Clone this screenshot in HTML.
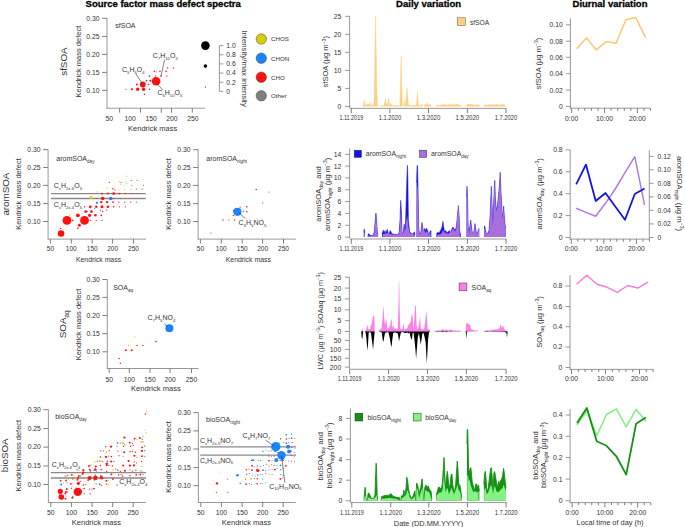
<!DOCTYPE html>
<html><head><meta charset="utf-8"><style>
html,body{margin:0;padding:0;background:#fff;}
svg{display:block;font-family:"Liberation Sans", sans-serif;}
</style></head><body>
<svg width="685" height="527" viewBox="0 0 685 527" fill="#333333">
<rect width="685" height="527" fill="#fff"/>
<g stroke="#000" stroke-width="0.3">
<text x="163.20" y="6.90" font-size="9.5" text-anchor="middle" font-weight="bold" fill="#000">Source factor mass defect spectra</text>
<text x="428.60" y="6.90" font-size="9.5" text-anchor="middle" font-weight="bold" fill="#000">Daily variation</text>
<text x="610.00" y="6.90" font-size="9.5" text-anchor="middle" font-weight="bold" fill="#000">Diurnal variation</text>
</g>
<text x="67.20" y="61.60" font-size="9.8" text-anchor="middle" transform="rotate(-90 67.20 61.60)">sfSOA</text>
<text x="8.60" y="194.10" font-size="9.8" text-anchor="middle" transform="rotate(-90 8.60 194.10)">aromSOA</text>
<text x="66.00" y="324.30" font-size="9.8" text-anchor="middle" transform="rotate(-90 66.00 324.30)">SOA<tspan dy="2.74" font-size="6.47">aq</tspan></text>
<text x="8.40" y="455.30" font-size="9.8" text-anchor="middle" transform="rotate(-90 8.40 455.30)">bioSOA</text>
<line x1="107.00" y1="18.00" x2="107.00" y2="108.65" stroke="#8c8c8c" stroke-width="0.9"/>
<line x1="102.00" y1="18.30" x2="107.00" y2="18.30" stroke="#707070" stroke-width="0.9"/>
<text x="99.50" y="20.60" font-size="6.8" text-anchor="end">0.30</text>
<line x1="102.00" y1="36.40" x2="107.00" y2="36.40" stroke="#707070" stroke-width="0.9"/>
<text x="99.50" y="38.70" font-size="6.8" text-anchor="end">0.25</text>
<line x1="102.00" y1="54.40" x2="107.00" y2="54.40" stroke="#707070" stroke-width="0.9"/>
<text x="99.50" y="56.70" font-size="6.8" text-anchor="end">0.20</text>
<line x1="102.00" y1="72.40" x2="107.00" y2="72.40" stroke="#707070" stroke-width="0.9"/>
<text x="99.50" y="74.70" font-size="6.8" text-anchor="end">0.15</text>
<line x1="102.00" y1="90.40" x2="107.00" y2="90.40" stroke="#707070" stroke-width="0.9"/>
<text x="99.50" y="92.70" font-size="6.8" text-anchor="end">0.10</text>
<line x1="106.55" y1="108.20" x2="205.20" y2="108.20" stroke="#8c8c8c" stroke-width="0.9"/>
<line x1="119.60" y1="108.20" x2="119.60" y2="112.70" stroke="#707070" stroke-width="0.9"/>
<line x1="140.50" y1="108.20" x2="140.50" y2="112.70" stroke="#707070" stroke-width="0.9"/>
<line x1="161.30" y1="108.20" x2="161.30" y2="112.70" stroke="#707070" stroke-width="0.9"/>
<line x1="171.50" y1="108.20" x2="171.50" y2="112.70" stroke="#707070" stroke-width="0.9"/>
<line x1="192.30" y1="108.20" x2="192.30" y2="112.70" stroke="#707070" stroke-width="0.9"/>
<text x="109.30" y="120.80" font-size="6.8" text-anchor="middle">50</text>
<text x="130.20" y="120.80" font-size="6.8" text-anchor="middle">100</text>
<text x="151.10" y="120.80" font-size="6.8" text-anchor="middle">150</text>
<text x="171.90" y="120.80" font-size="6.8" text-anchor="middle">200</text>
<text x="192.80" y="120.80" font-size="6.8" text-anchor="middle">250</text>
<text x="152.70" y="131.30" font-size="7.5" text-anchor="middle">Kendrick mass</text>
<text x="80.60" y="61.60" font-size="7.5" text-anchor="middle" transform="rotate(-90 80.60 61.60)">Kendrick mass defect</text>
<text x="115.30" y="27.90" font-size="7">sfSOA</text>
<circle cx="126.00" cy="89.30" r="0.60" fill="#ff1010"/>
<circle cx="131.90" cy="89.30" r="1.10" fill="#ff1010"/>
<circle cx="137.70" cy="89.30" r="1.70" fill="#ff1010"/>
<circle cx="143.60" cy="89.30" r="1.70" fill="#ff1010"/>
<circle cx="136.80" cy="84.50" r="1.00" fill="#ff1010"/>
<circle cx="148.50" cy="84.50" r="0.80" fill="#ff1010"/>
<circle cx="149.50" cy="89.30" r="0.70" fill="#ff1010"/>
<circle cx="144.40" cy="94.20" r="0.70" fill="#ff1010"/>
<circle cx="150.30" cy="80.70" r="1.00" fill="#ff1010"/>
<circle cx="149.50" cy="76.10" r="0.80" fill="#ff1010"/>
<circle cx="154.30" cy="71.30" r="0.80" fill="#ff1010"/>
<circle cx="160.00" cy="71.30" r="0.80" fill="#ff1010"/>
<circle cx="166.10" cy="71.30" r="0.80" fill="#ff1010"/>
<circle cx="161.00" cy="76.10" r="0.80" fill="#ff1010"/>
<circle cx="166.90" cy="76.10" r="0.70" fill="#ff1010"/>
<circle cx="167.60" cy="67.90" r="0.70" fill="#ff1010"/>
<circle cx="173.50" cy="67.90" r="0.70" fill="#ff1010"/>
<circle cx="155.50" cy="76.10" r="0.70" fill="#ff1010"/>
<circle cx="146.50" cy="80.70" r="1.00" fill="#1a84ff"/>
<circle cx="156.10" cy="71.80" r="0.60" fill="#1a84ff"/>
<circle cx="142.80" cy="84.50" r="2.90" fill="#ff1010"/>
<circle cx="156.10" cy="81.20" r="4.30" fill="#ff1010"/>
<line x1="164.60" y1="59.70" x2="161.00" y2="76.10" stroke="#333" stroke-width="0.6"/>
<line x1="136.00" y1="74.00" x2="142.40" y2="83.70" stroke="#333" stroke-width="0.6"/>
<line x1="155.90" y1="82.70" x2="163.00" y2="89.90" stroke="#333" stroke-width="0.6"/>
<text x="152.80" y="58.20" font-size="7">C<tspan dy="1.96" font-size="4.20">7</tspan><tspan dy="-1.96">H</tspan><tspan dy="1.96" font-size="4.20">10</tspan><tspan dy="-1.96">O</tspan><tspan dy="1.96" font-size="4.20">5</tspan></text>
<text x="122.00" y="72.00" font-size="7">C<tspan dy="1.96" font-size="4.20">5</tspan><tspan dy="-1.96">H</tspan><tspan dy="1.96" font-size="4.20">6</tspan><tspan dy="-1.96">O</tspan><tspan dy="1.96" font-size="4.20">4</tspan></text>
<text x="157.40" y="95.00" font-size="7">C<tspan dy="1.96" font-size="4.20">6</tspan><tspan dy="-1.96">H</tspan><tspan dy="1.96" font-size="4.20">10</tspan><tspan dy="-1.96">O</tspan><tspan dy="1.96" font-size="4.20">5</tspan></text>
<circle cx="205.40" cy="45.60" r="4.30" fill="#000"/>
<circle cx="205.40" cy="66.10" r="1.80" fill="#000"/>
<circle cx="205.40" cy="87.00" r="0.60" fill="#000"/>
<line x1="219.40" y1="45.60" x2="219.40" y2="91.40" stroke="#8c8c8c" stroke-width="0.9"/>
<line x1="219.40" y1="45.60" x2="223.40" y2="45.60" stroke="#8c8c8c" stroke-width="0.9"/>
<text x="226.30" y="47.90" font-size="6.8">1.0</text>
<line x1="219.40" y1="54.76" x2="223.40" y2="54.76" stroke="#8c8c8c" stroke-width="0.9"/>
<text x="226.30" y="57.06" font-size="6.8">0.8</text>
<line x1="219.40" y1="63.92" x2="223.40" y2="63.92" stroke="#8c8c8c" stroke-width="0.9"/>
<text x="226.30" y="66.22" font-size="6.8">0.6</text>
<line x1="219.40" y1="73.08" x2="223.40" y2="73.08" stroke="#8c8c8c" stroke-width="0.9"/>
<text x="226.30" y="75.38" font-size="6.8">0.4</text>
<line x1="219.40" y1="82.24" x2="223.40" y2="82.24" stroke="#8c8c8c" stroke-width="0.9"/>
<text x="226.30" y="84.54" font-size="6.8">0.2</text>
<line x1="219.40" y1="91.40" x2="223.40" y2="91.40" stroke="#8c8c8c" stroke-width="0.9"/>
<text x="226.30" y="93.70" font-size="6.8">0</text>
<text x="241.60" y="68.60" font-size="7.8" text-anchor="middle" transform="rotate(90 241.60 68.60)">Intensity/max intensity</text>
<circle cx="261.30" cy="39.00" r="5.20" fill="#d8cf00" stroke="#444" stroke-width="0.5"/>
<text x="271.00" y="41.30" font-size="6.2">CHOS</text>
<circle cx="261.30" cy="58.20" r="5.20" fill="#1a84ff" stroke="#444" stroke-width="0.5"/>
<text x="271.00" y="60.50" font-size="6.2">CHON</text>
<circle cx="261.30" cy="77.20" r="5.20" fill="#ff1010" stroke="#444" stroke-width="0.5"/>
<text x="271.00" y="79.50" font-size="6.2">CHO</text>
<circle cx="261.30" cy="95.80" r="5.20" fill="#808080" stroke="#444" stroke-width="0.5"/>
<text x="271.00" y="98.10" font-size="6.2">Other</text>
<line x1="48.10" y1="149.60" x2="48.10" y2="239.55" stroke="#8c8c8c" stroke-width="0.9"/>
<line x1="43.10" y1="149.60" x2="48.10" y2="149.60" stroke="#707070" stroke-width="0.9"/>
<text x="40.60" y="151.90" font-size="6.8" text-anchor="end">0.30</text>
<line x1="43.10" y1="167.50" x2="48.10" y2="167.50" stroke="#707070" stroke-width="0.9"/>
<text x="40.60" y="169.80" font-size="6.8" text-anchor="end">0.25</text>
<line x1="43.10" y1="185.40" x2="48.10" y2="185.40" stroke="#707070" stroke-width="0.9"/>
<text x="40.60" y="187.70" font-size="6.8" text-anchor="end">0.20</text>
<line x1="43.10" y1="203.60" x2="48.10" y2="203.60" stroke="#707070" stroke-width="0.9"/>
<text x="40.60" y="205.90" font-size="6.8" text-anchor="end">0.15</text>
<line x1="43.10" y1="221.50" x2="48.10" y2="221.50" stroke="#707070" stroke-width="0.9"/>
<text x="40.60" y="223.80" font-size="6.8" text-anchor="end">0.10</text>
<line x1="47.65" y1="239.10" x2="146.00" y2="239.10" stroke="#8c8c8c" stroke-width="0.9"/>
<line x1="50.40" y1="239.10" x2="50.40" y2="243.60" stroke="#707070" stroke-width="0.9"/>
<line x1="71.30" y1="239.10" x2="71.30" y2="243.60" stroke="#707070" stroke-width="0.9"/>
<line x1="92.20" y1="239.10" x2="92.20" y2="243.60" stroke="#707070" stroke-width="0.9"/>
<line x1="112.60" y1="239.10" x2="112.60" y2="243.60" stroke="#707070" stroke-width="0.9"/>
<line x1="133.50" y1="239.10" x2="133.50" y2="243.60" stroke="#707070" stroke-width="0.9"/>
<text x="50.40" y="251.20" font-size="6.5" text-anchor="middle">50</text>
<text x="71.30" y="251.20" font-size="6.5" text-anchor="middle">100</text>
<text x="92.20" y="251.20" font-size="6.5" text-anchor="middle">150</text>
<text x="112.60" y="251.20" font-size="6.5" text-anchor="middle">200</text>
<text x="133.50" y="251.20" font-size="6.5" text-anchor="middle">250</text>
<text x="98.50" y="262.00" font-size="6.9" text-anchor="middle">Kendrick mass</text>
<text x="20.70" y="194.00" font-size="7.5" text-anchor="middle" transform="rotate(-90 20.70 194.00)">Kendrick mass defect</text>
<text x="56.30" y="161.00" font-size="7">aromSOA<tspan dy="1.96" font-size="4.62">day</tspan></text>
<line x1="50.90" y1="193.60" x2="145.80" y2="193.60" stroke="#8a8a8a" stroke-width="1.3"/>
<line x1="50.90" y1="198.50" x2="145.80" y2="198.50" stroke="#8a8a8a" stroke-width="1.3"/>
<text x="53.80" y="188.20" font-size="7">C<tspan dy="1.96" font-size="4.20">x</tspan><tspan dy="-1.96">H</tspan><tspan dy="1.96" font-size="4.20">2x-6</tspan><tspan dy="-1.96">O</tspan><tspan dy="1.96" font-size="4.20">5</tspan></text>
<text x="53.80" y="207.20" font-size="7">C<tspan dy="1.96" font-size="4.20">x</tspan><tspan dy="-1.96">H</tspan><tspan dy="1.96" font-size="4.20">2x-4</tspan><tspan dy="-1.96">O</tspan><tspan dy="1.96" font-size="4.20">5</tspan></text>
<circle cx="60.40" cy="228.40" r="0.60" fill="#ff1010"/>
<circle cx="77.90" cy="228.40" r="0.80" fill="#ff1010"/>
<circle cx="79.40" cy="225.20" r="1.50" fill="#ff1010"/>
<circle cx="72.80" cy="220.40" r="0.80" fill="#ff1010"/>
<circle cx="69.90" cy="215.30" r="0.70" fill="#d8cf00"/>
<circle cx="77.90" cy="215.30" r="1.90" fill="#ff1010"/>
<circle cx="89.60" cy="215.30" r="1.60" fill="#ff1010"/>
<circle cx="95.40" cy="215.30" r="1.30" fill="#ff1010"/>
<circle cx="101.30" cy="215.30" r="0.90" fill="#ff1010"/>
<circle cx="85.70" cy="211.60" r="1.40" fill="#ff1010"/>
<circle cx="91.40" cy="211.60" r="1.40" fill="#ff1010"/>
<circle cx="87.40" cy="211.60" r="0.60" fill="#1a84ff"/>
<circle cx="96.20" cy="220.40" r="0.60" fill="#ff1010"/>
<circle cx="102.00" cy="220.40" r="0.60" fill="#ff1010"/>
<circle cx="90.30" cy="220.40" r="0.60" fill="#ff1010"/>
<circle cx="90.30" cy="206.80" r="1.40" fill="#ff1010"/>
<circle cx="96.20" cy="206.80" r="1.20" fill="#ff1010"/>
<circle cx="102.00" cy="206.80" r="1.50" fill="#ff1010"/>
<circle cx="107.90" cy="206.80" r="1.30" fill="#ff1010"/>
<circle cx="113.70" cy="206.80" r="0.80" fill="#ff1010"/>
<circle cx="119.50" cy="206.80" r="0.60" fill="#ff1010"/>
<circle cx="125.40" cy="206.80" r="0.60" fill="#ff1010"/>
<circle cx="84.50" cy="206.80" r="0.70" fill="#ff1010"/>
<circle cx="94.70" cy="208.70" r="0.60" fill="#1a84ff"/>
<circle cx="100.60" cy="210.10" r="0.70" fill="#ff1010"/>
<circle cx="102.70" cy="211.60" r="0.70" fill="#ff1010"/>
<circle cx="106.40" cy="210.10" r="0.60" fill="#ff1010"/>
<circle cx="101.30" cy="202.10" r="1.20" fill="#ff1010"/>
<circle cx="107.10" cy="202.10" r="1.20" fill="#ff1010"/>
<circle cx="113.00" cy="202.10" r="0.90" fill="#ff1010"/>
<circle cx="118.80" cy="202.10" r="0.70" fill="#ff1010"/>
<circle cx="124.60" cy="202.10" r="0.60" fill="#ff1010"/>
<circle cx="130.50" cy="202.10" r="0.60" fill="#ff1010"/>
<circle cx="136.30" cy="202.10" r="0.60" fill="#ff1010"/>
<circle cx="96.90" cy="202.80" r="1.10" fill="#1a84ff"/>
<circle cx="96.20" cy="198.50" r="0.60" fill="#ff1010"/>
<circle cx="114.40" cy="198.50" r="0.60" fill="#ff1010"/>
<circle cx="120.30" cy="198.50" r="0.50" fill="#ff1010"/>
<circle cx="102.00" cy="193.60" r="0.90" fill="#ff1010"/>
<circle cx="107.90" cy="193.60" r="1.00" fill="#ff1010"/>
<circle cx="113.70" cy="193.60" r="1.40" fill="#ff1010"/>
<circle cx="119.50" cy="193.60" r="0.90" fill="#ff1010"/>
<circle cx="125.40" cy="193.60" r="0.70" fill="#ff1010"/>
<circle cx="131.20" cy="193.60" r="0.60" fill="#ff1010"/>
<circle cx="137.10" cy="193.60" r="0.50" fill="#ff1010"/>
<circle cx="96.90" cy="191.90" r="0.60" fill="#d8cf00"/>
<circle cx="107.10" cy="188.20" r="0.60" fill="#d8cf00"/>
<circle cx="113.00" cy="188.70" r="0.80" fill="#ff1010"/>
<circle cx="115.20" cy="190.10" r="0.60" fill="#ff1010"/>
<circle cx="118.80" cy="189.70" r="0.50" fill="#d8cf00"/>
<circle cx="124.60" cy="189.70" r="0.50" fill="#d8cf00"/>
<circle cx="130.50" cy="189.70" r="0.50" fill="#d8cf00"/>
<circle cx="136.30" cy="189.00" r="0.60" fill="#ff1010"/>
<circle cx="142.20" cy="189.00" r="0.60" fill="#ff1010"/>
<circle cx="109.30" cy="182.40" r="0.60" fill="#ff1010"/>
<circle cx="119.50" cy="181.70" r="0.60" fill="#d8cf00"/>
<circle cx="120.30" cy="184.60" r="0.50" fill="#d8cf00"/>
<circle cx="121.00" cy="182.40" r="0.50" fill="#ff1010"/>
<circle cx="125.40" cy="181.70" r="0.50" fill="#d8cf00"/>
<circle cx="126.80" cy="183.10" r="0.50" fill="#1a84ff"/>
<circle cx="131.20" cy="180.50" r="0.60" fill="#ff1010"/>
<circle cx="131.90" cy="185.30" r="0.50" fill="#ff1010"/>
<circle cx="137.10" cy="180.50" r="0.50" fill="#ff1010"/>
<circle cx="142.90" cy="179.50" r="0.50" fill="#d8cf00"/>
<circle cx="143.60" cy="185.30" r="0.50" fill="#ff1010"/>
<circle cx="126.80" cy="176.10" r="0.60" fill="#d8cf00"/>
<circle cx="123.90" cy="185.30" r="0.50" fill="#d8cf00"/>
<circle cx="91.10" cy="197.70" r="1.60" fill="#d8cf00"/>
<circle cx="102.70" cy="198.50" r="1.80" fill="#ff1010"/>
<circle cx="110.80" cy="198.50" r="1.80" fill="#1a84ff"/>
<circle cx="67.00" cy="220.40" r="4.40" fill="#ff1010"/>
<circle cx="84.50" cy="220.40" r="4.40" fill="#ff1010"/>
<circle cx="61.10" cy="233.50" r="3.30" fill="#ff1010"/>
<line x1="198.10" y1="149.60" x2="198.10" y2="239.55" stroke="#8c8c8c" stroke-width="0.9"/>
<line x1="193.10" y1="149.60" x2="198.10" y2="149.60" stroke="#707070" stroke-width="0.9"/>
<text x="190.60" y="151.90" font-size="6.8" text-anchor="end">0.30</text>
<line x1="193.10" y1="167.50" x2="198.10" y2="167.50" stroke="#707070" stroke-width="0.9"/>
<text x="190.60" y="169.80" font-size="6.8" text-anchor="end">0.25</text>
<line x1="193.10" y1="185.40" x2="198.10" y2="185.40" stroke="#707070" stroke-width="0.9"/>
<text x="190.60" y="187.70" font-size="6.8" text-anchor="end">0.20</text>
<line x1="193.10" y1="203.60" x2="198.10" y2="203.60" stroke="#707070" stroke-width="0.9"/>
<text x="190.60" y="205.90" font-size="6.8" text-anchor="end">0.15</text>
<line x1="193.10" y1="221.50" x2="198.10" y2="221.50" stroke="#707070" stroke-width="0.9"/>
<text x="190.60" y="223.80" font-size="6.8" text-anchor="end">0.10</text>
<line x1="197.65" y1="239.10" x2="296.00" y2="239.10" stroke="#8c8c8c" stroke-width="0.9"/>
<line x1="200.40" y1="239.10" x2="200.40" y2="243.60" stroke="#707070" stroke-width="0.9"/>
<line x1="221.30" y1="239.10" x2="221.30" y2="243.60" stroke="#707070" stroke-width="0.9"/>
<line x1="242.20" y1="239.10" x2="242.20" y2="243.60" stroke="#707070" stroke-width="0.9"/>
<line x1="262.60" y1="239.10" x2="262.60" y2="243.60" stroke="#707070" stroke-width="0.9"/>
<line x1="283.50" y1="239.10" x2="283.50" y2="243.60" stroke="#707070" stroke-width="0.9"/>
<text x="200.40" y="251.20" font-size="6.5" text-anchor="middle">50</text>
<text x="221.30" y="251.20" font-size="6.5" text-anchor="middle">100</text>
<text x="242.20" y="251.20" font-size="6.5" text-anchor="middle">150</text>
<text x="262.60" y="251.20" font-size="6.5" text-anchor="middle">200</text>
<text x="283.50" y="251.20" font-size="6.5" text-anchor="middle">250</text>
<text x="248.30" y="262.00" font-size="6.9" text-anchor="middle">Kendrick mass</text>
<text x="170.60" y="194.00" font-size="7.5" text-anchor="middle" transform="rotate(-90 170.60 194.00)">Kendrick mass defect</text>
<text x="206.30" y="161.00" font-size="7">aromSOA<tspan dy="1.96" font-size="4.62">night</tspan></text>
<circle cx="256.20" cy="189.50" r="0.80" fill="#ff1010"/>
<circle cx="246.80" cy="206.70" r="0.80" fill="#ff1010"/>
<circle cx="246.80" cy="211.80" r="0.80" fill="#ff1010"/>
<circle cx="240.10" cy="207.20" r="0.60" fill="#ff1010"/>
<circle cx="234.50" cy="220.00" r="0.70" fill="#ff1010"/>
<circle cx="228.90" cy="220.00" r="0.60" fill="#ff1010"/>
<circle cx="223.00" cy="220.00" r="0.70" fill="#ff1010"/>
<circle cx="211.00" cy="233.00" r="0.60" fill="#ff1010"/>
<circle cx="233.50" cy="210.80" r="0.70" fill="#ff1010"/>
<circle cx="233.50" cy="215.40" r="0.70" fill="#ff1010"/>
<circle cx="269.00" cy="192.10" r="0.60" fill="#1a84ff"/>
<circle cx="262.60" cy="202.80" r="0.60" fill="#1a84ff"/>
<circle cx="243.40" cy="211.30" r="0.70" fill="#1a84ff"/>
<circle cx="237.40" cy="211.80" r="4.10" fill="#1a84ff"/>
<line x1="239.00" y1="213.00" x2="245.50" y2="218.60" stroke="#333" stroke-width="0.6"/>
<text x="238.60" y="224.60" font-size="7">C<tspan dy="1.96" font-size="4.20">6</tspan><tspan dy="-1.96">H</tspan><tspan dy="1.96" font-size="4.20">5</tspan><tspan dy="-1.96">NO</tspan><tspan dy="1.96" font-size="4.20">5</tspan></text>
<line x1="107.30" y1="279.50" x2="107.30" y2="368.95" stroke="#8c8c8c" stroke-width="0.9"/>
<line x1="102.30" y1="279.50" x2="107.30" y2="279.50" stroke="#707070" stroke-width="0.9"/>
<text x="99.80" y="281.80" font-size="6.8" text-anchor="end">0.30</text>
<line x1="102.30" y1="297.40" x2="107.30" y2="297.40" stroke="#707070" stroke-width="0.9"/>
<text x="99.80" y="299.70" font-size="6.8" text-anchor="end">0.25</text>
<line x1="102.30" y1="315.50" x2="107.30" y2="315.50" stroke="#707070" stroke-width="0.9"/>
<text x="99.80" y="317.80" font-size="6.8" text-anchor="end">0.20</text>
<line x1="102.30" y1="333.60" x2="107.30" y2="333.60" stroke="#707070" stroke-width="0.9"/>
<text x="99.80" y="335.90" font-size="6.8" text-anchor="end">0.15</text>
<line x1="102.30" y1="351.80" x2="107.30" y2="351.80" stroke="#707070" stroke-width="0.9"/>
<text x="99.80" y="354.10" font-size="6.8" text-anchor="end">0.10</text>
<line x1="106.85" y1="368.50" x2="198.60" y2="368.50" stroke="#8c8c8c" stroke-width="0.9"/>
<line x1="109.20" y1="368.50" x2="109.20" y2="373.00" stroke="#707070" stroke-width="0.9"/>
<line x1="129.30" y1="368.50" x2="129.30" y2="373.00" stroke="#707070" stroke-width="0.9"/>
<line x1="150.00" y1="368.50" x2="150.00" y2="373.00" stroke="#707070" stroke-width="0.9"/>
<line x1="170.10" y1="368.50" x2="170.10" y2="373.00" stroke="#707070" stroke-width="0.9"/>
<line x1="191.50" y1="368.50" x2="191.50" y2="373.00" stroke="#707070" stroke-width="0.9"/>
<text x="109.20" y="381.50" font-size="6.8" text-anchor="middle">50</text>
<text x="129.30" y="381.50" font-size="6.8" text-anchor="middle">100</text>
<text x="150.00" y="381.50" font-size="6.8" text-anchor="middle">150</text>
<text x="170.10" y="381.50" font-size="6.8" text-anchor="middle">200</text>
<text x="191.50" y="381.50" font-size="6.8" text-anchor="middle">250</text>
<text x="155.90" y="391.40" font-size="7.6" text-anchor="middle">Kendrick mass</text>
<text x="80.60" y="324.50" font-size="7.5" text-anchor="middle" transform="rotate(-90 80.60 324.50)">Kendrick mass defect</text>
<text x="113.20" y="290.20" font-size="7">SOA<tspan dy="1.96" font-size="4.62">aq</tspan></text>
<circle cx="155.90" cy="341.60" r="0.80" fill="#ff1010"/>
<circle cx="142.80" cy="345.40" r="0.70" fill="#ff1010"/>
<circle cx="136.90" cy="345.40" r="0.70" fill="#ff1010"/>
<circle cx="131.70" cy="350.20" r="1.00" fill="#ff1010"/>
<circle cx="125.80" cy="350.20" r="1.00" fill="#ff1010"/>
<circle cx="119.10" cy="358.50" r="0.80" fill="#ff1010"/>
<circle cx="120.30" cy="363.20" r="0.70" fill="#ff1010"/>
<circle cx="135.00" cy="336.90" r="0.60" fill="#d8cf00"/>
<circle cx="128.60" cy="345.40" r="0.60" fill="#d8cf00"/>
<circle cx="169.40" cy="328.30" r="4.00" fill="#1a84ff"/>
<line x1="164.20" y1="323.40" x2="167.30" y2="326.90" stroke="#333" stroke-width="0.6"/>
<text x="147.60" y="320.30" font-size="7">C<tspan dy="1.96" font-size="4.20">7</tspan><tspan dy="-1.96">H</tspan><tspan dy="1.96" font-size="4.20">5</tspan><tspan dy="-1.96">NO</tspan><tspan dy="1.96" font-size="4.20">4</tspan></text>
<line x1="48.40" y1="409.70" x2="48.40" y2="502.95" stroke="#8c8c8c" stroke-width="0.9"/>
<line x1="43.40" y1="409.70" x2="48.40" y2="409.70" stroke="#707070" stroke-width="0.9"/>
<text x="40.90" y="412.00" font-size="6.8" text-anchor="end">0.30</text>
<line x1="43.40" y1="428.50" x2="48.40" y2="428.50" stroke="#707070" stroke-width="0.9"/>
<text x="40.90" y="430.80" font-size="6.8" text-anchor="end">0.25</text>
<line x1="43.40" y1="447.10" x2="48.40" y2="447.10" stroke="#707070" stroke-width="0.9"/>
<text x="40.90" y="449.40" font-size="6.8" text-anchor="end">0.20</text>
<line x1="43.40" y1="465.90" x2="48.40" y2="465.90" stroke="#707070" stroke-width="0.9"/>
<text x="40.90" y="468.20" font-size="6.8" text-anchor="end">0.15</text>
<line x1="43.40" y1="484.50" x2="48.40" y2="484.50" stroke="#707070" stroke-width="0.9"/>
<text x="40.90" y="486.80" font-size="6.8" text-anchor="end">0.10</text>
<line x1="47.95" y1="502.50" x2="145.70" y2="502.50" stroke="#8c8c8c" stroke-width="0.9"/>
<line x1="50.80" y1="502.50" x2="50.80" y2="507.00" stroke="#707070" stroke-width="0.9"/>
<line x1="71.40" y1="502.50" x2="71.40" y2="507.00" stroke="#707070" stroke-width="0.9"/>
<line x1="92.10" y1="502.50" x2="92.10" y2="507.00" stroke="#707070" stroke-width="0.9"/>
<line x1="112.70" y1="502.50" x2="112.70" y2="507.00" stroke="#707070" stroke-width="0.9"/>
<line x1="133.20" y1="502.50" x2="133.20" y2="507.00" stroke="#707070" stroke-width="0.9"/>
<text x="50.80" y="514.60" font-size="6.8" text-anchor="middle">50</text>
<text x="71.40" y="514.60" font-size="6.8" text-anchor="middle">100</text>
<text x="92.10" y="514.60" font-size="6.8" text-anchor="middle">150</text>
<text x="112.70" y="514.60" font-size="6.8" text-anchor="middle">200</text>
<text x="133.20" y="514.60" font-size="6.8" text-anchor="middle">250</text>
<text x="96.40" y="525.40" font-size="7.5" text-anchor="middle">Kendrick mass</text>
<text x="21.30" y="455.70" font-size="7.5" text-anchor="middle" transform="rotate(-90 21.30 455.70)">Kendrick mass defect</text>
<text x="55.20" y="419.20" font-size="7">bioSOA<tspan dy="1.96" font-size="4.62">day</tspan></text>
<line x1="50.80" y1="472.70" x2="146.10" y2="472.70" stroke="#8a8a8a" stroke-width="1.3"/>
<line x1="50.80" y1="478.00" x2="146.10" y2="478.00" stroke="#8a8a8a" stroke-width="1.3"/>
<text x="51.80" y="467.20" font-size="7">C<tspan dy="1.96" font-size="4.20">x</tspan><tspan dy="-1.96">H</tspan><tspan dy="1.96" font-size="4.20">2x-6</tspan><tspan dy="-1.96">O</tspan><tspan dy="1.96" font-size="4.20">4</tspan></text>
<text x="119.20" y="484.30" font-size="7">C<tspan dy="1.96" font-size="4.20">x</tspan><tspan dy="-1.96">H</tspan><tspan dy="1.96" font-size="4.20">2x-4</tspan><tspan dy="-1.96">O</tspan><tspan dy="1.96" font-size="4.20">4</tspan></text>
<circle cx="60.64" cy="480.67" r="0.90" fill="#ff1010"/>
<circle cx="61.23" cy="484.45" r="1.00" fill="#1a84ff"/>
<circle cx="63.33" cy="482.98" r="0.60" fill="#d8cf00"/>
<circle cx="59.40" cy="490.14" r="0.90" fill="#ff1010"/>
<circle cx="59.34" cy="493.91" r="0.60" fill="#ff1010"/>
<circle cx="61.17" cy="498.18" r="1.00" fill="#1a84ff"/>
<circle cx="63.61" cy="498.18" r="0.60" fill="#1a84ff"/>
<circle cx="65.72" cy="476.15" r="0.60" fill="#ff1010"/>
<circle cx="67.75" cy="475.39" r="0.60" fill="#ff1010"/>
<circle cx="66.01" cy="480.52" r="0.90" fill="#ff1010"/>
<circle cx="68.50" cy="479.49" r="0.60" fill="#d8cf00"/>
<circle cx="66.75" cy="489.01" r="1.00" fill="#ff1010"/>
<circle cx="65.26" cy="493.52" r="0.90" fill="#ff1010"/>
<circle cx="67.31" cy="492.08" r="0.60" fill="#ff1010"/>
<circle cx="65.48" cy="498.64" r="0.90" fill="#ff1010"/>
<circle cx="71.81" cy="474.92" r="0.90" fill="#ff1010"/>
<circle cx="73.88" cy="476.61" r="0.60" fill="#d8cf00"/>
<circle cx="72.92" cy="479.25" r="0.90" fill="#d8cf00"/>
<circle cx="70.90" cy="483.79" r="0.90" fill="#ff1010"/>
<circle cx="71.51" cy="488.32" r="0.60" fill="#ff1010"/>
<circle cx="72.29" cy="497.78" r="1.00" fill="#ff1010"/>
<circle cx="76.99" cy="469.78" r="0.70" fill="#1a84ff"/>
<circle cx="78.98" cy="470.65" r="0.60" fill="#d8cf00"/>
<circle cx="78.83" cy="475.91" r="1.00" fill="#ff1010"/>
<circle cx="80.74" cy="475.96" r="0.60" fill="#ff1010"/>
<circle cx="77.49" cy="479.67" r="1.00" fill="#ff1010"/>
<circle cx="80.22" cy="481.38" r="0.60" fill="#ff1010"/>
<circle cx="78.12" cy="484.73" r="0.60" fill="#ff1010"/>
<circle cx="76.59" cy="488.71" r="0.90" fill="#ff1010"/>
<circle cx="78.67" cy="488.83" r="0.60" fill="#d8cf00"/>
<circle cx="83.38" cy="470.14" r="1.10" fill="#ff1010"/>
<circle cx="82.38" cy="474.19" r="0.80" fill="#ff1010"/>
<circle cx="83.46" cy="484.96" r="0.80" fill="#ff1010"/>
<circle cx="85.71" cy="484.48" r="0.60" fill="#ff1010"/>
<circle cx="84.07" cy="488.43" r="0.80" fill="#ff1010"/>
<circle cx="84.39" cy="493.68" r="0.60" fill="#1a84ff"/>
<circle cx="88.97" cy="465.97" r="1.00" fill="#ff1010"/>
<circle cx="90.88" cy="465.09" r="0.60" fill="#ff1010"/>
<circle cx="90.29" cy="470.86" r="0.90" fill="#ff1010"/>
<circle cx="88.12" cy="480.03" r="0.90" fill="#ff1010"/>
<circle cx="89.63" cy="489.15" r="0.60" fill="#ff1010"/>
<circle cx="92.05" cy="489.21" r="0.60" fill="#1a84ff"/>
<circle cx="90.28" cy="493.85" r="0.70" fill="#ff1010"/>
<circle cx="94.83" cy="461.74" r="0.70" fill="#d8cf00"/>
<circle cx="97.22" cy="461.08" r="0.60" fill="#ff1010"/>
<circle cx="95.81" cy="466.50" r="1.10" fill="#ff1010"/>
<circle cx="94.07" cy="470.42" r="0.70" fill="#1a84ff"/>
<circle cx="96.39" cy="471.04" r="0.60" fill="#1a84ff"/>
<circle cx="95.30" cy="474.79" r="0.60" fill="#ff1010"/>
<circle cx="94.47" cy="479.53" r="1.10" fill="#1a84ff"/>
<circle cx="96.41" cy="479.37" r="0.60" fill="#ff1010"/>
<circle cx="94.37" cy="483.78" r="0.60" fill="#d8cf00"/>
<circle cx="96.28" cy="483.91" r="0.60" fill="#1a84ff"/>
<circle cx="93.99" cy="488.57" r="0.90" fill="#ff1010"/>
<circle cx="100.83" cy="450.85" r="0.70" fill="#ff1010"/>
<circle cx="103.33" cy="450.92" r="0.60" fill="#1a84ff"/>
<circle cx="100.49" cy="457.03" r="0.70" fill="#ff1010"/>
<circle cx="99.86" cy="461.03" r="1.10" fill="#d8cf00"/>
<circle cx="102.21" cy="461.58" r="0.60" fill="#ff1010"/>
<circle cx="100.37" cy="465.45" r="0.70" fill="#ff1010"/>
<circle cx="101.77" cy="469.72" r="0.70" fill="#d8cf00"/>
<circle cx="100.84" cy="475.73" r="0.80" fill="#ff1010"/>
<circle cx="99.64" cy="484.18" r="0.90" fill="#1a84ff"/>
<circle cx="101.47" cy="485.30" r="0.60" fill="#ff1010"/>
<circle cx="105.71" cy="446.77" r="0.70" fill="#ff1010"/>
<circle cx="106.54" cy="452.13" r="0.90" fill="#d8cf00"/>
<circle cx="109.29" cy="450.64" r="0.60" fill="#ff1010"/>
<circle cx="106.00" cy="456.91" r="1.10" fill="#ff1010"/>
<circle cx="108.70" cy="456.03" r="0.60" fill="#1a84ff"/>
<circle cx="107.39" cy="461.34" r="0.80" fill="#1a84ff"/>
<circle cx="106.68" cy="465.20" r="1.00" fill="#ff1010"/>
<circle cx="108.85" cy="465.34" r="0.60" fill="#ff1010"/>
<circle cx="106.61" cy="471.45" r="0.60" fill="#ff1010"/>
<circle cx="106.29" cy="480.74" r="0.90" fill="#ff1010"/>
<circle cx="108.22" cy="480.50" r="0.60" fill="#d8cf00"/>
<circle cx="106.44" cy="484.13" r="0.70" fill="#ff1010"/>
<circle cx="108.50" cy="484.86" r="0.60" fill="#d8cf00"/>
<circle cx="111.08" cy="446.67" r="1.10" fill="#ff1010"/>
<circle cx="111.34" cy="456.47" r="0.80" fill="#ff1010"/>
<circle cx="111.11" cy="461.39" r="1.00" fill="#ff1010"/>
<circle cx="113.77" cy="461.51" r="0.60" fill="#ff1010"/>
<circle cx="112.35" cy="465.97" r="0.70" fill="#ff1010"/>
<circle cx="113.22" cy="470.11" r="0.80" fill="#d8cf00"/>
<circle cx="115.79" cy="469.01" r="0.60" fill="#ff1010"/>
<circle cx="111.37" cy="474.33" r="0.90" fill="#ff1010"/>
<circle cx="112.95" cy="479.08" r="0.90" fill="#ff1010"/>
<circle cx="117.66" cy="443.07" r="0.80" fill="#ff1010"/>
<circle cx="120.22" cy="443.08" r="0.60" fill="#1a84ff"/>
<circle cx="116.97" cy="446.31" r="0.60" fill="#1a84ff"/>
<circle cx="117.96" cy="451.15" r="0.60" fill="#ff1010"/>
<circle cx="119.02" cy="455.64" r="0.60" fill="#ff1010"/>
<circle cx="117.82" cy="470.18" r="0.70" fill="#ff1010"/>
<circle cx="120.32" cy="471.42" r="0.60" fill="#ff1010"/>
<circle cx="118.57" cy="474.96" r="0.70" fill="#ff1010"/>
<circle cx="121.17" cy="474.33" r="0.60" fill="#ff1010"/>
<circle cx="117.08" cy="484.99" r="0.70" fill="#1a84ff"/>
<circle cx="124.39" cy="437.56" r="1.10" fill="#ff1010"/>
<circle cx="122.79" cy="443.20" r="1.10" fill="#d8cf00"/>
<circle cx="124.87" cy="444.86" r="0.60" fill="#ff1010"/>
<circle cx="123.52" cy="446.46" r="0.60" fill="#ff1010"/>
<circle cx="124.23" cy="452.30" r="1.00" fill="#ff1010"/>
<circle cx="123.17" cy="456.25" r="0.60" fill="#1a84ff"/>
<circle cx="123.21" cy="465.48" r="1.00" fill="#ff1010"/>
<circle cx="124.94" cy="470.75" r="1.10" fill="#ff1010"/>
<circle cx="122.66" cy="476.01" r="0.70" fill="#ff1010"/>
<circle cx="129.71" cy="442.69" r="0.90" fill="#ff1010"/>
<circle cx="132.40" cy="443.59" r="0.60" fill="#ff1010"/>
<circle cx="130.57" cy="446.25" r="0.70" fill="#ff1010"/>
<circle cx="133.34" cy="445.32" r="0.60" fill="#ff1010"/>
<circle cx="130.03" cy="451.71" r="0.70" fill="#ff1010"/>
<circle cx="132.46" cy="451.55" r="0.60" fill="#ff1010"/>
<circle cx="128.60" cy="461.01" r="1.10" fill="#ff1010"/>
<circle cx="129.94" cy="465.53" r="1.10" fill="#ff1010"/>
<circle cx="130.06" cy="469.95" r="0.60" fill="#ff1010"/>
<circle cx="132.37" cy="471.20" r="0.60" fill="#ff1010"/>
<circle cx="130.04" cy="475.55" r="0.70" fill="#ff1010"/>
<circle cx="134.61" cy="438.71" r="0.90" fill="#ff1010"/>
<circle cx="136.76" cy="439.59" r="0.60" fill="#d8cf00"/>
<circle cx="135.55" cy="452.31" r="0.70" fill="#ff1010"/>
<circle cx="134.41" cy="455.76" r="1.00" fill="#ff1010"/>
<circle cx="136.96" cy="457.27" r="0.60" fill="#ff1010"/>
<circle cx="134.28" cy="461.88" r="0.60" fill="#ff1010"/>
<circle cx="136.65" cy="463.01" r="0.60" fill="#ff1010"/>
<circle cx="134.07" cy="465.42" r="1.10" fill="#ff1010"/>
<circle cx="135.88" cy="470.13" r="0.70" fill="#ff1010"/>
<circle cx="136.23" cy="474.79" r="0.90" fill="#ff1010"/>
<circle cx="139.86" cy="438.10" r="1.00" fill="#ff1010"/>
<circle cx="142.22" cy="439.17" r="0.60" fill="#ff1010"/>
<circle cx="141.15" cy="441.78" r="0.90" fill="#d8cf00"/>
<circle cx="142.97" cy="441.83" r="0.60" fill="#ff1010"/>
<circle cx="142.12" cy="447.40" r="0.90" fill="#ff1010"/>
<circle cx="144.71" cy="445.90" r="0.60" fill="#ff1010"/>
<circle cx="141.96" cy="450.94" r="1.10" fill="#ff1010"/>
<circle cx="144.57" cy="450.66" r="0.60" fill="#1a84ff"/>
<circle cx="141.98" cy="456.13" r="0.90" fill="#ff1010"/>
<circle cx="144.75" cy="456.75" r="0.60" fill="#ff1010"/>
<circle cx="141.53" cy="461.54" r="0.60" fill="#ff1010"/>
<circle cx="141.85" cy="466.41" r="0.60" fill="#d8cf00"/>
<circle cx="141.06" cy="470.90" r="0.60" fill="#ff1010"/>
<circle cx="143.00" cy="471.76" r="0.60" fill="#d8cf00"/>
<circle cx="140.20" cy="474.56" r="0.90" fill="#ff1010"/>
<circle cx="142.89" cy="474.46" r="0.60" fill="#1a84ff"/>
<circle cx="145.99" cy="432.64" r="0.70" fill="#d8cf00"/>
<circle cx="146.50" cy="411.50" r="0.70" fill="#d8cf00"/>
<circle cx="145.50" cy="414.00" r="0.80" fill="#ff1010"/>
<circle cx="145.00" cy="430.00" r="0.60" fill="#d8cf00"/>
<circle cx="143.00" cy="436.00" r="0.60" fill="#1a84ff"/>
<circle cx="66.00" cy="491.90" r="1.00" fill="#ff1010"/>
<circle cx="72.70" cy="497.00" r="0.80" fill="#ff1010"/>
<circle cx="66.00" cy="496.10" r="0.50" fill="#1a84ff"/>
<circle cx="78.00" cy="478.10" r="1.00" fill="#ff1010"/>
<circle cx="72.70" cy="478.10" r="0.60" fill="#ff1010"/>
<circle cx="67.00" cy="482.80" r="0.50" fill="#ff1010"/>
<circle cx="95.40" cy="469.50" r="1.20" fill="#ff1010"/>
<circle cx="89.70" cy="469.50" r="0.80" fill="#ff1010"/>
<circle cx="101.10" cy="469.50" r="0.80" fill="#ff1010"/>
<circle cx="106.80" cy="463.80" r="1.20" fill="#ff1010"/>
<circle cx="83.10" cy="472.70" r="1.20" fill="#ff1010"/>
<circle cx="78.40" cy="483.20" r="1.50" fill="#ff1010"/>
<circle cx="89.70" cy="478.10" r="2.00" fill="#ff1010"/>
<circle cx="95.40" cy="477.70" r="2.20" fill="#ff1010"/>
<circle cx="101.50" cy="477.70" r="1.80" fill="#ff1010"/>
<circle cx="60.30" cy="491.30" r="2.60" fill="#ff1010"/>
<circle cx="61.30" cy="497.00" r="2.80" fill="#ff1010"/>
<circle cx="77.80" cy="491.90" r="4.20" fill="#ff1010"/>
<line x1="198.40" y1="412.60" x2="198.40" y2="502.95" stroke="#8c8c8c" stroke-width="0.9"/>
<line x1="193.40" y1="412.60" x2="198.40" y2="412.60" stroke="#707070" stroke-width="0.9"/>
<text x="190.90" y="414.90" font-size="6.8" text-anchor="end">0.30</text>
<line x1="193.40" y1="430.90" x2="198.40" y2="430.90" stroke="#707070" stroke-width="0.9"/>
<text x="190.90" y="433.20" font-size="6.8" text-anchor="end">0.25</text>
<line x1="193.40" y1="449.00" x2="198.40" y2="449.00" stroke="#707070" stroke-width="0.9"/>
<text x="190.90" y="451.30" font-size="6.8" text-anchor="end">0.20</text>
<line x1="193.40" y1="467.60" x2="198.40" y2="467.60" stroke="#707070" stroke-width="0.9"/>
<text x="190.90" y="469.90" font-size="6.8" text-anchor="end">0.15</text>
<line x1="193.40" y1="485.70" x2="198.40" y2="485.70" stroke="#707070" stroke-width="0.9"/>
<text x="190.90" y="488.00" font-size="6.8" text-anchor="end">0.10</text>
<line x1="197.95" y1="502.50" x2="295.70" y2="502.50" stroke="#8c8c8c" stroke-width="0.9"/>
<line x1="200.80" y1="502.50" x2="200.80" y2="507.00" stroke="#707070" stroke-width="0.9"/>
<line x1="221.40" y1="502.50" x2="221.40" y2="507.00" stroke="#707070" stroke-width="0.9"/>
<line x1="242.10" y1="502.50" x2="242.10" y2="507.00" stroke="#707070" stroke-width="0.9"/>
<line x1="262.70" y1="502.50" x2="262.70" y2="507.00" stroke="#707070" stroke-width="0.9"/>
<line x1="283.20" y1="502.50" x2="283.20" y2="507.00" stroke="#707070" stroke-width="0.9"/>
<text x="200.80" y="514.60" font-size="6.8" text-anchor="middle">50</text>
<text x="221.40" y="514.60" font-size="6.8" text-anchor="middle">100</text>
<text x="242.10" y="514.60" font-size="6.8" text-anchor="middle">150</text>
<text x="262.70" y="514.60" font-size="6.8" text-anchor="middle">200</text>
<text x="283.20" y="514.60" font-size="6.8" text-anchor="middle">250</text>
<text x="246.40" y="525.40" font-size="7.5" text-anchor="middle">Kendrick mass</text>
<text x="171.30" y="457.00" font-size="7.5" text-anchor="middle" transform="rotate(-90 171.30 457.00)">Kendrick mass defect</text>
<text x="206.00" y="422.00" font-size="7">bioSOA<tspan dy="1.96" font-size="4.62">night</tspan></text>
<line x1="200.30" y1="446.90" x2="296.10" y2="446.90" stroke="#8a8a8a" stroke-width="1.3"/>
<line x1="200.30" y1="455.20" x2="296.10" y2="455.20" stroke="#8a8a8a" stroke-width="1.3"/>
<circle cx="240.27" cy="483.52" r="0.80" fill="#1a84ff"/>
<circle cx="246.04" cy="484.09" r="0.90" fill="#ff1010"/>
<circle cx="249.28" cy="483.58" r="0.50" fill="#ff1010"/>
<circle cx="251.60" cy="484.30" r="0.60" fill="#1a84ff"/>
<circle cx="257.13" cy="483.80" r="0.80" fill="#ff1010"/>
<circle cx="260.70" cy="483.41" r="0.50" fill="#ff1010"/>
<circle cx="262.33" cy="483.46" r="0.50" fill="#1a84ff"/>
<circle cx="265.85" cy="482.75" r="0.50" fill="#1a84ff"/>
<circle cx="245.52" cy="479.07" r="0.60" fill="#ff1010"/>
<circle cx="251.01" cy="478.96" r="0.90" fill="#d8cf00"/>
<circle cx="254.44" cy="478.42" r="0.50" fill="#ff1010"/>
<circle cx="257.32" cy="478.79" r="0.70" fill="#ff1010"/>
<circle cx="262.55" cy="479.12" r="0.50" fill="#1a84ff"/>
<circle cx="280.37" cy="478.96" r="0.90" fill="#ff1010"/>
<circle cx="282.73" cy="477.91" r="0.50" fill="#ff1010"/>
<circle cx="246.69" cy="474.25" r="0.70" fill="#1a84ff"/>
<circle cx="249.27" cy="473.52" r="0.50" fill="#ff1010"/>
<circle cx="252.34" cy="474.96" r="0.50" fill="#1a84ff"/>
<circle cx="255.04" cy="475.88" r="0.50" fill="#1a84ff"/>
<circle cx="257.67" cy="474.94" r="0.80" fill="#1a84ff"/>
<circle cx="260.31" cy="474.32" r="0.50" fill="#ff1010"/>
<circle cx="262.38" cy="474.26" r="0.50" fill="#1a84ff"/>
<circle cx="265.87" cy="473.51" r="0.50" fill="#ff1010"/>
<circle cx="269.19" cy="474.48" r="0.60" fill="#d8cf00"/>
<circle cx="272.11" cy="474.58" r="0.50" fill="#1a84ff"/>
<circle cx="280.81" cy="474.60" r="0.70" fill="#1a84ff"/>
<circle cx="283.13" cy="475.55" r="0.50" fill="#ff1010"/>
<circle cx="246.35" cy="469.68" r="0.70" fill="#ff1010"/>
<circle cx="249.07" cy="469.09" r="0.50" fill="#ff1010"/>
<circle cx="251.99" cy="470.05" r="0.90" fill="#ff1010"/>
<circle cx="256.75" cy="469.33" r="0.60" fill="#ff1010"/>
<circle cx="259.89" cy="470.90" r="0.50" fill="#1a84ff"/>
<circle cx="262.93" cy="470.19" r="0.90" fill="#1a84ff"/>
<circle cx="265.63" cy="470.87" r="0.50" fill="#ff1010"/>
<circle cx="268.81" cy="470.05" r="0.50" fill="#1a84ff"/>
<circle cx="272.08" cy="469.46" r="0.50" fill="#1a84ff"/>
<circle cx="274.84" cy="469.55" r="0.90" fill="#ff1010"/>
<circle cx="277.16" cy="468.43" r="0.50" fill="#ff1010"/>
<circle cx="280.68" cy="469.79" r="0.70" fill="#1a84ff"/>
<circle cx="283.10" cy="468.48" r="0.50" fill="#1a84ff"/>
<circle cx="252.02" cy="465.63" r="0.90" fill="#ff1010"/>
<circle cx="254.11" cy="466.54" r="0.50" fill="#1a84ff"/>
<circle cx="257.27" cy="465.97" r="0.70" fill="#1a84ff"/>
<circle cx="260.38" cy="466.52" r="0.50" fill="#1a84ff"/>
<circle cx="263.43" cy="465.57" r="0.50" fill="#1a84ff"/>
<circle cx="266.33" cy="464.31" r="0.50" fill="#ff1010"/>
<circle cx="269.13" cy="465.92" r="0.50" fill="#ff1010"/>
<circle cx="271.61" cy="464.81" r="0.50" fill="#ff1010"/>
<circle cx="273.98" cy="465.47" r="0.50" fill="#ff1010"/>
<circle cx="277.07" cy="465.45" r="0.50" fill="#1a84ff"/>
<circle cx="280.49" cy="465.35" r="0.90" fill="#1a84ff"/>
<circle cx="285.94" cy="465.81" r="0.90" fill="#ff1010"/>
<circle cx="251.53" cy="460.45" r="0.60" fill="#ff1010"/>
<circle cx="254.13" cy="460.21" r="0.50" fill="#1a84ff"/>
<circle cx="258.19" cy="460.47" r="0.80" fill="#d8cf00"/>
<circle cx="260.43" cy="460.42" r="0.50" fill="#1a84ff"/>
<circle cx="262.82" cy="460.55" r="0.50" fill="#d8cf00"/>
<circle cx="268.96" cy="460.58" r="0.90" fill="#ff1010"/>
<circle cx="272.09" cy="460.70" r="0.50" fill="#ff1010"/>
<circle cx="274.77" cy="460.92" r="0.70" fill="#1a84ff"/>
<circle cx="277.83" cy="459.95" r="0.50" fill="#ff1010"/>
<circle cx="280.20" cy="460.34" r="0.70" fill="#ff1010"/>
<circle cx="283.25" cy="460.02" r="0.50" fill="#ff1010"/>
<circle cx="285.40" cy="460.67" r="0.50" fill="#d8cf00"/>
<circle cx="288.42" cy="461.01" r="0.50" fill="#1a84ff"/>
<circle cx="291.47" cy="461.18" r="0.50" fill="#ff1010"/>
<circle cx="294.52" cy="461.77" r="0.50" fill="#1a84ff"/>
<circle cx="262.42" cy="455.84" r="0.50" fill="#1a84ff"/>
<circle cx="268.80" cy="455.93" r="0.60" fill="#ff1010"/>
<circle cx="271.64" cy="456.44" r="0.50" fill="#1a84ff"/>
<circle cx="274.18" cy="456.03" r="0.60" fill="#ff1010"/>
<circle cx="291.36" cy="455.56" r="0.60" fill="#ff1010"/>
<circle cx="294.23" cy="456.77" r="0.50" fill="#ff1010"/>
<circle cx="262.95" cy="451.39" r="0.70" fill="#1a84ff"/>
<circle cx="265.97" cy="449.93" r="0.50" fill="#1a84ff"/>
<circle cx="268.97" cy="451.33" r="0.50" fill="#1a84ff"/>
<circle cx="271.17" cy="450.81" r="0.50" fill="#ff1010"/>
<circle cx="275.15" cy="451.38" r="0.80" fill="#1a84ff"/>
<circle cx="277.63" cy="452.41" r="0.50" fill="#1a84ff"/>
<circle cx="280.91" cy="451.64" r="0.70" fill="#ff1010"/>
<circle cx="290.84" cy="451.08" r="0.90" fill="#ff1010"/>
<circle cx="294.13" cy="452.62" r="0.50" fill="#1a84ff"/>
<circle cx="285.99" cy="447.28" r="0.60" fill="#d8cf00"/>
<circle cx="289.13" cy="446.59" r="0.50" fill="#ff1010"/>
<circle cx="291.87" cy="447.37" r="0.60" fill="#ff1010"/>
<circle cx="294.94" cy="448.24" r="0.50" fill="#1a84ff"/>
<circle cx="279.74" cy="442.93" r="0.60" fill="#1a84ff"/>
<circle cx="283.54" cy="442.29" r="0.50" fill="#ff1010"/>
<circle cx="286.33" cy="443.15" r="0.90" fill="#1a84ff"/>
<circle cx="288.50" cy="442.69" r="0.50" fill="#ff1010"/>
<circle cx="292.17" cy="442.61" r="0.70" fill="#ff1010"/>
<circle cx="280.58" cy="438.83" r="0.80" fill="#1a84ff"/>
<circle cx="286.34" cy="438.97" r="0.80" fill="#ff1010"/>
<circle cx="289.08" cy="438.47" r="0.50" fill="#ff1010"/>
<circle cx="291.57" cy="438.15" r="0.90" fill="#1a84ff"/>
<circle cx="294.78" cy="438.60" r="0.50" fill="#ff1010"/>
<circle cx="286.21" cy="434.87" r="0.80" fill="#1a84ff"/>
<circle cx="291.53" cy="434.12" r="0.70" fill="#1a84ff"/>
<circle cx="217.00" cy="483.40" r="1.20" fill="#ff1010"/>
<circle cx="216.40" cy="492.30" r="0.60" fill="#ff1010"/>
<circle cx="227.80" cy="492.30" r="0.60" fill="#ff1010"/>
<circle cx="227.80" cy="479.00" r="0.60" fill="#ff1010"/>
<circle cx="220.00" cy="472.00" r="0.50" fill="#d8cf00"/>
<circle cx="230.00" cy="460.00" r="0.50" fill="#d8cf00"/>
<circle cx="257.80" cy="470.50" r="1.60" fill="#ff1010"/>
<circle cx="237.50" cy="475.20" r="1.30" fill="#1a84ff"/>
<circle cx="253.00" cy="460.00" r="1.00" fill="#1a84ff"/>
<circle cx="282.40" cy="460.00" r="1.20" fill="#1a84ff"/>
<circle cx="276.40" cy="460.00" r="2.00" fill="#1a84ff"/>
<circle cx="288.10" cy="446.70" r="2.00" fill="#1a84ff"/>
<circle cx="289.10" cy="451.50" r="2.00" fill="#1a84ff"/>
<circle cx="281.50" cy="455.30" r="4.20" fill="#1a84ff"/>
<circle cx="275.80" cy="446.70" r="4.70" fill="#1a84ff"/>
<line x1="265.40" y1="440.10" x2="273.90" y2="445.80" stroke="#333" stroke-width="0.6"/>
<line x1="281.50" y1="456.20" x2="284.90" y2="482.80" stroke="#333" stroke-width="0.6"/>
<text x="242.60" y="437.60" font-size="7">C<tspan dy="1.96" font-size="4.20">8</tspan><tspan dy="-1.96">H</tspan><tspan dy="1.96" font-size="4.20">7</tspan><tspan dy="-1.96">NO</tspan><tspan dy="1.96" font-size="4.20">7</tspan></text>
<text x="199.90" y="442.60" font-size="7">C<tspan dy="1.96" font-size="4.20">x</tspan><tspan dy="-1.96">H</tspan><tspan dy="1.96" font-size="4.20">2x-5</tspan><tspan dy="-1.96">NO</tspan><tspan dy="1.96" font-size="4.20">7</tspan></text>
<text x="199.90" y="462.50" font-size="7">C<tspan dy="1.96" font-size="4.20">x</tspan><tspan dy="-1.96">H</tspan><tspan dy="1.96" font-size="4.20">2x-5</tspan><tspan dy="-1.96">NO</tspan><tspan dy="1.96" font-size="4.20">6</tspan></text>
<text x="269.20" y="488.50" font-size="7">C<tspan dy="1.96" font-size="4.20">10</tspan><tspan dy="-1.96">H</tspan><tspan dy="1.96" font-size="4.20">15</tspan><tspan dy="-1.96">NO</tspan><tspan dy="1.96" font-size="4.20">6</tspan></text>
<line x1="349.60" y1="16.00" x2="349.60" y2="108.10" stroke="#8c8c8c" stroke-width="0.9"/>
<line x1="345.10" y1="16.30" x2="349.60" y2="16.30" stroke="#8c8c8c" stroke-width="0.9"/>
<text x="341.40" y="18.70" font-size="6.8" text-anchor="end">25</text>
<line x1="345.10" y1="34.30" x2="349.60" y2="34.30" stroke="#8c8c8c" stroke-width="0.9"/>
<text x="341.40" y="36.70" font-size="6.8" text-anchor="end">20</text>
<line x1="345.10" y1="52.30" x2="349.60" y2="52.30" stroke="#8c8c8c" stroke-width="0.9"/>
<text x="341.40" y="54.70" font-size="6.8" text-anchor="end">15</text>
<line x1="345.10" y1="70.40" x2="349.60" y2="70.40" stroke="#8c8c8c" stroke-width="0.9"/>
<text x="341.40" y="72.80" font-size="6.8" text-anchor="end">10</text>
<line x1="345.10" y1="88.40" x2="349.60" y2="88.40" stroke="#8c8c8c" stroke-width="0.9"/>
<text x="341.40" y="90.80" font-size="6.8" text-anchor="end">5</text>
<line x1="345.10" y1="106.40" x2="349.60" y2="106.40" stroke="#8c8c8c" stroke-width="0.9"/>
<text x="341.40" y="108.80" font-size="6.8" text-anchor="end">0</text>
<line x1="349.80" y1="108.40" x2="506.40" y2="108.40" stroke="#8c8c8c" stroke-width="0.9"/>
<line x1="351.30" y1="108.40" x2="351.30" y2="113.20" stroke="#707070" stroke-width="0.9"/>
<text x="351.30" y="120.40" font-size="6.8" text-anchor="middle" textLength="23.8" lengthAdjust="spacingAndGlyphs">1.11.2019</text>
<line x1="389.90" y1="108.40" x2="389.90" y2="113.20" stroke="#707070" stroke-width="0.9"/>
<text x="389.90" y="120.40" font-size="6.8" text-anchor="middle" textLength="22.4" lengthAdjust="spacingAndGlyphs">1.1.2020</text>
<line x1="428.50" y1="108.40" x2="428.50" y2="113.20" stroke="#707070" stroke-width="0.9"/>
<text x="428.50" y="120.40" font-size="6.8" text-anchor="middle" textLength="23.6" lengthAdjust="spacingAndGlyphs">1.3.2020</text>
<line x1="467.40" y1="108.40" x2="467.40" y2="113.20" stroke="#707070" stroke-width="0.9"/>
<text x="467.40" y="120.40" font-size="6.8" text-anchor="middle" textLength="23.7" lengthAdjust="spacingAndGlyphs">1.5.2020</text>
<line x1="506.00" y1="108.40" x2="506.00" y2="113.20" stroke="#707070" stroke-width="0.9"/>
<text x="506.00" y="120.40" font-size="6.8" text-anchor="middle" textLength="22.7" lengthAdjust="spacingAndGlyphs">1.7.2020</text>
<text x="328.40" y="61.80" font-size="7.6" text-anchor="middle" transform="rotate(-90 328.40 61.80)">sfSOA (µg m<tspan dy="-2.89" font-size="5.02">−3</tspan><tspan dy="2.89">)</tspan></text>
<polygon points="362.80,106.40 362.80,105.36 363.30,106.22 363.80,102.90 364.20,100.00 364.30,100.73 364.80,104.35 365.30,105.74 365.80,105.98 366.30,105.34 366.80,104.57 367.30,103.81 367.50,103.50 367.80,103.96 368.30,104.73 368.80,104.81 369.30,103.16 369.50,102.50 369.80,103.49 370.30,105.14 370.80,105.47 371.30,105.41 371.80,104.76 372.00,104.50 372.30,104.89 372.80,105.23 373.30,105.85 373.80,103.40 374.20,101.00 374.30,93.83 374.80,63.89 375.30,33.96 375.60,16.00 375.80,27.97 376.30,57.91 376.80,87.84 377.30,105.79 377.80,105.48 378.30,105.48 378.30,106.40" fill="#fdd07e"/>
<polyline points="362.80,105.36 363.30,106.22 363.80,102.90 364.20,100.00 364.30,100.73 364.80,104.35 365.30,105.74 365.80,105.98 366.30,105.34 366.80,104.57 367.30,103.81 367.50,103.50 367.80,103.96 368.30,104.73 368.80,104.81 369.30,103.16 369.50,102.50 369.80,103.49 370.30,105.14 370.80,105.47 371.30,105.41 371.80,104.76 372.00,104.50 372.30,104.89 372.80,105.23 373.30,105.85 373.80,103.40 374.20,101.00 374.30,93.83 374.80,63.89 375.30,33.96 375.60,16.00 375.80,27.97 376.30,57.91 376.80,87.84 377.30,105.79 377.80,105.48 378.30,105.48" fill="none" stroke="#fdd07e" stroke-width="0.5" stroke-linejoin="round"/>
<polygon points="380.50,106.40 380.50,105.96 381.00,105.96 381.50,105.25 382.00,105.27 382.50,105.87 383.00,105.79 383.50,105.74 384.00,105.45 384.50,103.38 385.00,100.62 385.40,98.40 385.50,98.95 386.00,101.72 386.50,104.49 387.00,105.51 387.50,105.60 388.00,101.70 388.50,97.80 388.50,97.80 389.00,101.70 389.50,105.56 390.00,105.41 390.50,103.98 390.80,103.00 391.00,103.65 391.50,105.27 392.00,105.45 392.50,105.50 393.00,105.91 393.50,105.62 394.00,105.65 394.50,105.39 395.00,105.22 395.50,105.46 396.00,105.31 396.50,105.61 397.00,106.00 397.50,105.74 398.00,105.35 398.50,105.91 399.00,105.84 399.00,106.40" fill="#fdd07e"/>
<polyline points="380.50,105.96 381.00,105.96 381.50,105.25 382.00,105.27 382.50,105.87 383.00,105.79 383.50,105.74 384.00,105.45 384.50,103.38 385.00,100.62 385.40,98.40 385.50,98.95 386.00,101.72 386.50,104.49 387.00,105.51 387.50,105.60 388.00,101.70 388.50,97.80 388.50,97.80 389.00,101.70 389.50,105.56 390.00,105.41 390.50,103.98 390.80,103.00 391.00,103.65 391.50,105.27 392.00,105.45 392.50,105.50 393.00,105.91 393.50,105.62 394.00,105.65 394.50,105.39 395.00,105.22 395.50,105.46 396.00,105.31 396.50,105.61 397.00,106.00 397.50,105.74 398.00,105.35 398.50,105.91 399.00,105.84" fill="none" stroke="#fdd07e" stroke-width="0.5" stroke-linejoin="round"/>
<polygon points="399.60,106.40 399.60,105.60 399.90,105.60 400.20,93.27 400.50,80.95 400.80,68.62 401.10,56.30 401.10,56.30 401.40,68.63 401.70,80.95 402.00,93.28 402.30,105.60 402.60,105.60 402.60,106.40" fill="#fdd07e"/>
<polyline points="399.60,105.60 399.90,105.60 400.20,93.27 400.50,80.95 400.80,68.62 401.10,56.30 401.10,56.30 401.40,68.63 401.70,80.95 402.00,93.28 402.30,105.60 402.60,105.60" fill="none" stroke="#fdd07e" stroke-width="0.5" stroke-linejoin="round"/>
<polygon points="403.20,106.40 403.20,105.39 403.70,105.64 404.20,102.85 404.50,100.10 404.70,101.93 405.20,105.70 405.70,104.31 406.20,97.89 406.70,91.46 407.00,87.60 407.20,90.17 407.70,96.60 408.20,103.03 408.70,105.58 409.20,105.87 409.70,105.58 410.20,105.71 410.70,105.32 411.20,105.71 411.70,105.89 412.20,105.62 412.70,105.79 413.20,105.74 413.70,105.25 414.20,104.70 414.20,104.70 414.70,105.45 415.20,105.44 415.70,105.22 416.20,105.89 416.70,102.86 417.20,96.01 417.50,91.90 417.70,94.64 418.20,101.49 418.70,105.94 419.20,105.52 419.70,105.84 420.20,105.56 420.70,105.25 421.20,104.38 421.30,104.20 421.70,104.90 422.20,105.31 422.70,105.37 422.70,106.40" fill="#fdd07e"/>
<polyline points="403.20,105.39 403.70,105.64 404.20,102.85 404.50,100.10 404.70,101.93 405.20,105.70 405.70,104.31 406.20,97.89 406.70,91.46 407.00,87.60 407.20,90.17 407.70,96.60 408.20,103.03 408.70,105.58 409.20,105.87 409.70,105.58 410.20,105.71 410.70,105.32 411.20,105.71 411.70,105.89 412.20,105.62 412.70,105.79 413.20,105.74 413.70,105.25 414.20,104.70 414.20,104.70 414.70,105.45 415.20,105.44 415.70,105.22 416.20,105.89 416.70,102.86 417.20,96.01 417.50,91.90 417.70,94.64 418.20,101.49 418.70,105.94 419.20,105.52 419.70,105.84 420.20,105.56 420.70,105.25 421.20,104.38 421.30,104.20 421.70,104.90 422.20,105.31 422.70,105.37" fill="none" stroke="#fdd07e" stroke-width="0.5" stroke-linejoin="round"/>
<polygon points="424.10,106.40 424.10,105.19 424.60,105.08 425.10,104.70 425.50,104.00 425.60,104.18 426.10,105.05 426.60,105.32 427.10,103.90 427.50,102.40 427.60,102.78 428.10,104.65 428.60,105.18 429.10,104.93 429.50,104.00 429.60,104.23 430.10,105.14 430.60,105.08 431.10,105.17 431.10,106.40" fill="#fdd07e"/>
<polyline points="424.10,105.19 424.60,105.08 425.10,104.70 425.50,104.00 425.60,104.18 426.10,105.05 426.60,105.32 427.10,103.90 427.50,102.40 427.60,102.78 428.10,104.65 428.60,105.18 429.10,104.93 429.50,104.00 429.60,104.23 430.10,105.14 430.60,105.08 431.10,105.17" fill="none" stroke="#fdd07e" stroke-width="0.5" stroke-linejoin="round"/>
<polygon points="435.80,106.40 435.80,105.09 436.60,105.17 437.40,105.21 438.20,105.31 439.00,105.17 439.80,105.30 440.60,104.67 441.40,104.98 442.20,104.95 443.00,104.75 443.80,104.55 444.00,104.50 444.60,104.65 445.40,104.85 446.20,104.82 447.00,105.03 447.80,105.05 448.60,104.66 449.40,104.80 450.20,104.85 451.00,104.70 451.80,104.46 452.00,104.40 452.60,104.58 453.40,104.82 454.20,104.75 455.00,105.08 455.80,104.74 456.60,104.52 457.40,103.88 457.50,103.80 458.20,104.36 459.00,104.80 459.80,105.34 460.60,105.26 461.40,104.85 461.40,106.40" fill="#fdd07e"/>
<polyline points="435.80,105.09 436.60,105.17 437.40,105.21 438.20,105.31 439.00,105.17 439.80,105.30 440.60,104.67 441.40,104.98 442.20,104.95 443.00,104.75 443.80,104.55 444.00,104.50 444.60,104.65 445.40,104.85 446.20,104.82 447.00,105.03 447.80,105.05 448.60,104.66 449.40,104.80 450.20,104.85 451.00,104.70 451.80,104.46 452.00,104.40 452.60,104.58 453.40,104.82 454.20,104.75 455.00,105.08 455.80,104.74 456.60,104.52 457.40,103.88 457.50,103.80 458.20,104.36 459.00,104.80 459.80,105.34 460.60,105.26 461.40,104.85" fill="none" stroke="#fdd07e" stroke-width="0.5" stroke-linejoin="round"/>
<polygon points="466.60,106.40 466.60,105.11 467.40,104.69 468.20,104.26 468.50,104.10 469.00,104.37 469.80,104.55 470.60,104.87 471.40,104.60 472.00,104.40 472.20,104.47 473.00,104.73 473.80,105.09 474.60,104.74 475.40,105.11 476.20,105.06 477.00,104.84 477.80,104.93 478.60,105.03 479.40,104.69 479.40,106.40" fill="#fdd07e"/>
<polyline points="466.60,105.11 467.40,104.69 468.20,104.26 468.50,104.10 469.00,104.37 469.80,104.55 470.60,104.87 471.40,104.60 472.00,104.40 472.20,104.47 473.00,104.73 473.80,105.09 474.60,104.74 475.40,105.11 476.20,105.06 477.00,104.84 477.80,104.93 478.60,105.03 479.40,104.69" fill="none" stroke="#fdd07e" stroke-width="0.5" stroke-linejoin="round"/>
<polygon points="483.70,106.40 483.70,104.88 484.50,104.76 485.30,105.11 486.10,104.70 486.90,105.03 487.70,104.91 488.50,104.69 489.30,104.74 490.00,104.60 490.10,104.62 490.90,104.78 491.70,104.70 492.50,104.71 493.30,104.95 494.10,104.97 494.90,104.73 495.70,104.49 496.00,104.40 496.50,104.55 497.30,104.79 498.10,105.05 498.90,104.93 499.70,105.33 500.50,104.68 501.30,104.48 502.00,104.20 502.10,104.24 502.90,104.56 503.70,104.73 504.50,104.87 505.30,105.22 505.30,106.40" fill="#fdd07e"/>
<polyline points="483.70,104.88 484.50,104.76 485.30,105.11 486.10,104.70 486.90,105.03 487.70,104.91 488.50,104.69 489.30,104.74 490.00,104.60 490.10,104.62 490.90,104.78 491.70,104.70 492.50,104.71 493.30,104.95 494.10,104.97 494.90,104.73 495.70,104.49 496.00,104.40 496.50,104.55 497.30,104.79 498.10,105.05 498.90,104.93 499.70,105.33 500.50,104.68 501.30,104.48 502.00,104.20 502.10,104.24 502.90,104.56 503.70,104.73 504.50,104.87 505.30,105.22" fill="none" stroke="#fdd07e" stroke-width="0.5" stroke-linejoin="round"/>
<rect x="457.30" y="17.80" width="8.00" height="7.70" fill="#fdd07e" stroke="#555" stroke-width="0.5"/>
<text x="469.90" y="24.80" font-size="6.7">sfSOA</text>
<line x1="349.60" y1="148.50" x2="349.60" y2="238.70" stroke="#8c8c8c" stroke-width="0.9"/>
<line x1="345.10" y1="154.30" x2="349.60" y2="154.30" stroke="#8c8c8c" stroke-width="0.9"/>
<text x="341.40" y="156.70" font-size="6.8" text-anchor="end">14</text>
<line x1="345.10" y1="166.10" x2="349.60" y2="166.10" stroke="#8c8c8c" stroke-width="0.9"/>
<text x="341.40" y="168.50" font-size="6.8" text-anchor="end">12</text>
<line x1="345.10" y1="177.90" x2="349.60" y2="177.90" stroke="#8c8c8c" stroke-width="0.9"/>
<text x="341.40" y="180.30" font-size="6.8" text-anchor="end">10</text>
<line x1="345.10" y1="189.80" x2="349.60" y2="189.80" stroke="#8c8c8c" stroke-width="0.9"/>
<text x="341.40" y="192.20" font-size="6.8" text-anchor="end">8</text>
<line x1="345.10" y1="201.60" x2="349.60" y2="201.60" stroke="#8c8c8c" stroke-width="0.9"/>
<text x="341.40" y="204.00" font-size="6.8" text-anchor="end">6</text>
<line x1="345.10" y1="213.40" x2="349.60" y2="213.40" stroke="#8c8c8c" stroke-width="0.9"/>
<text x="341.40" y="215.80" font-size="6.8" text-anchor="end">4</text>
<line x1="345.10" y1="225.30" x2="349.60" y2="225.30" stroke="#8c8c8c" stroke-width="0.9"/>
<text x="341.40" y="227.70" font-size="6.8" text-anchor="end">2</text>
<line x1="345.10" y1="237.10" x2="349.60" y2="237.10" stroke="#8c8c8c" stroke-width="0.9"/>
<text x="341.40" y="239.50" font-size="6.8" text-anchor="end">0</text>
<line x1="349.80" y1="239.00" x2="506.40" y2="239.00" stroke="#8c8c8c" stroke-width="0.9"/>
<line x1="351.30" y1="239.00" x2="351.30" y2="243.80" stroke="#707070" stroke-width="0.9"/>
<text x="351.30" y="250.80" font-size="6.8" text-anchor="middle" textLength="23.8" lengthAdjust="spacingAndGlyphs">1.11.2019</text>
<line x1="389.90" y1="239.00" x2="389.90" y2="243.80" stroke="#707070" stroke-width="0.9"/>
<text x="389.90" y="250.80" font-size="6.8" text-anchor="middle" textLength="22.4" lengthAdjust="spacingAndGlyphs">1.1.2020</text>
<line x1="428.50" y1="239.00" x2="428.50" y2="243.80" stroke="#707070" stroke-width="0.9"/>
<text x="428.50" y="250.80" font-size="6.8" text-anchor="middle" textLength="23.6" lengthAdjust="spacingAndGlyphs">1.3.2020</text>
<line x1="467.40" y1="239.00" x2="467.40" y2="243.80" stroke="#707070" stroke-width="0.9"/>
<text x="467.40" y="250.80" font-size="6.8" text-anchor="middle" textLength="23.7" lengthAdjust="spacingAndGlyphs">1.5.2020</text>
<line x1="506.00" y1="239.00" x2="506.00" y2="243.80" stroke="#707070" stroke-width="0.9"/>
<text x="506.00" y="250.80" font-size="6.8" text-anchor="middle" textLength="22.7" lengthAdjust="spacingAndGlyphs">1.7.2020</text>
<text x="321.40" y="194.00" font-size="7.5" text-anchor="middle" transform="rotate(-90 321.40 194.00)">aromSOA<tspan dy="2.10" font-size="4.95">day</tspan><tspan dy="-2.10"> and</tspan></text>
<text x="329.80" y="194.40" font-size="7.5" text-anchor="middle" transform="rotate(-90 329.80 194.40)">aromSOA<tspan dy="2.10" font-size="4.95">night</tspan><tspan dy="-2.10"> (µg m</tspan><tspan dy="-2.85" font-size="4.95">−3</tspan><tspan dy="2.85">)</tspan></text>
<polygon points="363.78,237.10 363.78,231.76 364.25,228.95 364.72,232.92 364.72,237.10" fill="#1212e6"/>
<polyline points="363.78,231.76 364.25,228.95 364.72,232.92" fill="none" stroke="#1212e6" stroke-width="0.5" stroke-linejoin="round"/>
<polygon points="367.75,237.10 367.75,234.56 368.69,233.63 369.62,234.56 370.56,235.49 371.49,235.49 372.42,235.26 373.36,234.56 374.29,231.76 375.23,220.08 375.93,213.07 376.63,220.08 377.33,231.76 378.03,235.26 378.03,237.10" fill="#1212e6"/>
<polyline points="367.75,234.56 368.69,233.63 369.62,234.56 370.56,235.49 371.49,235.49 372.42,235.26 373.36,234.56 374.29,231.76 375.23,220.08 375.93,213.07 376.63,220.08 377.33,231.76 378.03,235.26" fill="none" stroke="#1212e6" stroke-width="0.5" stroke-linejoin="round"/>
<polygon points="382.00,237.10 382.00,234.09 382.70,231.76 383.40,229.89 384.10,232.92 385.04,230.59 385.74,233.63 386.67,230.59 387.37,229.42 388.08,232.92 388.78,234.09 389.71,231.76 390.41,230.59 391.11,232.22 392.05,233.63 393.21,234.09 394.38,234.56 395.55,234.09 396.72,234.56 397.89,234.09 399.05,232.92 399.99,220.08 400.69,200.22 401.39,210.73 402.09,232.92 402.79,234.09 403.49,230.59 404.19,224.28 404.89,229.42 405.59,220.08 406.30,196.72 407.00,173.36 407.46,165.18 407.93,180.37 408.40,220.08 409.10,227.08 409.80,231.76 410.73,232.92 411.67,233.63 412.60,234.09 413.54,232.92 414.47,231.76 414.94,235.26 414.94,237.10" fill="#1212e6"/>
<polyline points="382.00,234.09 382.70,231.76 383.40,229.89 384.10,232.92 385.04,230.59 385.74,233.63 386.67,230.59 387.37,229.42 388.08,232.92 388.78,234.09 389.71,231.76 390.41,230.59 391.11,232.22 392.05,233.63 393.21,234.09 394.38,234.56 395.55,234.09 396.72,234.56 397.89,234.09 399.05,232.92 399.99,220.08 400.69,200.22 401.39,210.73 402.09,232.92 402.79,234.09 403.49,230.59 404.19,224.28 404.89,229.42 405.59,220.08 406.30,196.72 407.00,173.36 407.46,165.18 407.93,180.37 408.40,220.08 409.10,227.08 409.80,231.76 410.73,232.92 411.67,233.63 412.60,234.09 413.54,232.92 414.47,231.76 414.94,235.26" fill="none" stroke="#1212e6" stroke-width="0.5" stroke-linejoin="round"/>
<polygon points="416.57,237.10 416.57,182.70 417.04,166.35 417.51,165.18 417.97,182.70 418.68,227.08 419.38,232.92 420.08,234.09 420.78,232.92 421.48,227.08 421.95,222.41 422.65,227.08 423.58,231.76 424.28,229.42 424.98,228.25 425.68,231.76 426.38,228.25 427.08,229.42 427.79,230.59 428.49,235.26 429.42,232.92 430.59,230.59 431.29,231.76 431.29,237.10" fill="#1212e6"/>
<polyline points="416.57,182.70 417.04,166.35 417.51,165.18 417.97,182.70 418.68,227.08 419.38,232.92 420.08,234.09 420.78,232.92 421.48,227.08 421.95,222.41 422.65,227.08 423.58,231.76 424.28,229.42 424.98,228.25 425.68,231.76 426.38,228.25 427.08,229.42 427.79,230.59 428.49,235.26 429.42,232.92 430.59,230.59 431.29,231.76" fill="none" stroke="#1212e6" stroke-width="0.5" stroke-linejoin="round"/>
<polygon points="436.43,237.10 436.43,234.09 437.60,232.22 438.76,232.92 439.93,231.76 441.10,229.42 442.27,225.92 442.97,221.25 443.67,227.08 444.60,231.76 445.77,230.59 446.94,232.92 448.11,231.76 449.28,230.59 450.44,232.92 451.61,229.42 452.78,227.08 453.95,228.25 455.12,230.59 456.28,227.08 457.45,215.41 458.39,205.59 459.09,215.41 459.79,231.76 460.72,234.56 460.72,237.10" fill="#1212e6"/>
<polyline points="436.43,234.09 437.60,232.22 438.76,232.92 439.93,231.76 441.10,229.42 442.27,225.92 442.97,221.25 443.67,227.08 444.60,231.76 445.77,230.59 446.94,232.92 448.11,231.76 449.28,230.59 450.44,232.92 451.61,229.42 452.78,227.08 453.95,228.25 455.12,230.59 456.28,227.08 457.45,215.41 458.39,205.59 459.09,215.41 459.79,231.76 460.72,234.56" fill="none" stroke="#1212e6" stroke-width="0.5" stroke-linejoin="round"/>
<polygon points="466.56,237.10 466.56,196.72 467.03,186.21 467.50,196.72 468.20,227.08 469.13,231.76 470.07,224.75 470.77,220.08 471.47,227.08 472.40,232.92 473.34,234.09 474.27,229.42 474.97,223.58 475.67,228.25 476.61,234.09 477.54,232.92 478.47,229.42 479.18,228.25 479.18,237.10" fill="#1212e6"/>
<polyline points="466.56,196.72 467.03,186.21 467.50,196.72 468.20,227.08 469.13,231.76 470.07,224.75 470.77,220.08 471.47,227.08 472.40,232.92 473.34,234.09 474.27,229.42 474.97,223.58 475.67,228.25 476.61,234.09 477.54,232.92 478.47,229.42 479.18,228.25" fill="none" stroke="#1212e6" stroke-width="0.5" stroke-linejoin="round"/>
<polygon points="484.08,237.10 484.08,227.08 484.78,225.92 485.48,230.59 486.65,234.09 487.82,232.92 488.99,230.59 490.15,215.41 490.85,196.72 491.32,186.21 492.02,203.73 492.96,224.75 493.66,203.73 494.36,185.04 494.83,180.37 495.29,196.72 495.99,206.06 496.69,210.73 497.40,206.06 498.33,196.72 499.50,185.04 500.20,172.19 500.90,189.71 501.83,208.40 502.53,217.74 503.24,210.73 503.70,206.06 504.40,217.74 505.10,224.75 505.57,227.08 505.57,237.10" fill="#1212e6"/>
<polyline points="484.08,227.08 484.78,225.92 485.48,230.59 486.65,234.09 487.82,232.92 488.99,230.59 490.15,215.41 490.85,196.72 491.32,186.21 492.02,203.73 492.96,224.75 493.66,203.73 494.36,185.04 494.83,180.37 495.29,196.72 495.99,206.06 496.69,210.73 497.40,206.06 498.33,196.72 499.50,185.04 500.20,172.19 500.90,189.71 501.83,208.40 502.53,217.74 503.24,210.73 503.70,206.06 504.40,217.74 505.10,224.75 505.57,227.08" fill="none" stroke="#1212e6" stroke-width="0.5" stroke-linejoin="round"/>
<polygon points="364.02,237.10 364.02,233.63 364.72,234.56 364.72,237.10" fill="#a86fdc"/>
<polygon points="368.22,237.10 368.22,235.26 370.56,235.96 373.36,235.03 374.29,232.92 375.23,222.41 375.93,213.07 376.63,220.08 377.33,231.76 378.03,235.26 378.03,237.10" fill="#a86fdc"/>
<polygon points="382.70,237.10 382.70,234.09 385.04,233.63 387.37,232.92 389.71,233.63 392.05,234.56 395.55,234.56 399.05,234.09 399.99,224.75 400.69,210.73 401.39,220.08 402.09,234.09 403.49,232.92 404.19,227.08 404.89,231.76 405.59,227.08 406.30,220.08 407.00,215.41 407.70,220.08 408.40,227.08 409.80,232.92 411.90,234.09 413.54,234.09 414.94,235.96 414.94,237.10" fill="#a86fdc"/>
<polygon points="416.57,237.10 416.57,210.73 417.04,187.37 417.51,185.04 417.97,196.72 418.68,227.08 419.38,233.63 420.78,234.09 421.48,229.42 421.95,223.58 422.65,228.25 424.28,230.59 425.68,232.92 427.08,230.59 428.49,235.26 430.59,231.76 430.59,237.10" fill="#a86fdc"/>
<polygon points="436.90,237.10 436.90,235.26 438.76,234.56 441.10,234.09 442.27,231.76 442.97,229.42 443.67,231.76 445.77,232.92 448.11,233.63 450.44,231.76 451.61,231.29 452.78,228.25 453.95,229.42 455.12,231.76 456.28,228.25 457.45,215.87 458.39,206.06 459.09,215.87 459.79,232.22 459.79,237.10" fill="#a86fdc"/>
<polygon points="466.56,237.10 466.56,200.22 467.03,189.71 467.50,199.05 468.20,227.08 469.13,232.92 470.07,227.08 470.77,222.41 471.47,228.25 472.40,233.63 474.27,230.59 474.97,224.75 475.67,229.42 476.61,234.56 478.47,230.59 479.18,229.42 479.18,237.10" fill="#a86fdc"/>
<polygon points="484.08,237.10 484.08,229.42 484.78,228.25 485.48,231.76 487.82,234.09 488.99,231.76 490.15,217.74 490.85,199.05 491.32,188.54 492.02,204.89 492.96,225.22 493.66,204.89 494.36,187.37 494.83,182.70 495.29,197.89 495.99,207.23 496.69,211.20 497.40,207.23 498.33,197.89 499.50,186.21 500.20,173.36 500.90,190.88 501.83,209.57 502.53,218.91 503.24,211.90 503.70,207.23 504.40,218.91 505.10,225.92 505.10,237.10" fill="#a86fdc"/>
<rect x="354.20" y="150.20" width="7.20" height="7.20" fill="#1212e6" stroke="#333" stroke-width="0.5"/>
<text x="365.80" y="156.30" font-size="6.9">aromSOA<tspan dy="1.93" font-size="4.55">night</tspan></text>
<rect x="419.50" y="150.20" width="7.20" height="7.20" fill="#a86fdc" stroke="#333" stroke-width="0.5"/>
<text x="431.00" y="156.30" font-size="6.9">aromSOA<tspan dy="1.93" font-size="4.55">day</tspan></text>
<line x1="349.40" y1="277.00" x2="349.40" y2="369.00" stroke="#8c8c8c" stroke-width="0.9"/>
<line x1="344.90" y1="277.20" x2="349.40" y2="277.20" stroke="#8c8c8c" stroke-width="0.9"/>
<text x="341.20" y="279.60" font-size="6.8" text-anchor="end">25</text>
<line x1="344.90" y1="288.10" x2="349.40" y2="288.10" stroke="#8c8c8c" stroke-width="0.9"/>
<text x="341.20" y="290.50" font-size="6.8" text-anchor="end">20</text>
<line x1="344.90" y1="298.90" x2="349.40" y2="298.90" stroke="#8c8c8c" stroke-width="0.9"/>
<text x="341.20" y="301.30" font-size="6.8" text-anchor="end">15</text>
<line x1="344.90" y1="309.80" x2="349.40" y2="309.80" stroke="#8c8c8c" stroke-width="0.9"/>
<text x="341.20" y="312.20" font-size="6.8" text-anchor="end">10</text>
<line x1="344.90" y1="320.60" x2="349.40" y2="320.60" stroke="#8c8c8c" stroke-width="0.9"/>
<text x="341.20" y="323.00" font-size="6.8" text-anchor="end">5</text>
<line x1="344.90" y1="331.50" x2="349.40" y2="331.50" stroke="#8c8c8c" stroke-width="0.9"/>
<text x="341.20" y="333.90" font-size="6.8" text-anchor="end">0</text>
<line x1="344.90" y1="340.40" x2="349.40" y2="340.40" stroke="#8c8c8c" stroke-width="0.9"/>
<text x="341.20" y="342.80" font-size="6.8" text-anchor="end">50</text>
<line x1="344.90" y1="349.30" x2="349.40" y2="349.30" stroke="#8c8c8c" stroke-width="0.9"/>
<text x="341.20" y="351.70" font-size="6.8" text-anchor="end">100</text>
<line x1="344.90" y1="358.20" x2="349.40" y2="358.20" stroke="#8c8c8c" stroke-width="0.9"/>
<text x="341.20" y="360.60" font-size="6.8" text-anchor="end">150</text>
<line x1="344.90" y1="367.10" x2="349.40" y2="367.10" stroke="#8c8c8c" stroke-width="0.9"/>
<text x="341.20" y="369.50" font-size="6.8" text-anchor="end">200</text>
<line x1="349.60" y1="369.30" x2="506.50" y2="369.30" stroke="#8c8c8c" stroke-width="0.9"/>
<line x1="349.70" y1="369.30" x2="349.70" y2="374.10" stroke="#707070" stroke-width="0.9"/>
<text x="349.70" y="381.40" font-size="6.8" text-anchor="middle" textLength="23.8" lengthAdjust="spacingAndGlyphs">1.11.2019</text>
<line x1="388.60" y1="369.30" x2="388.60" y2="374.10" stroke="#707070" stroke-width="0.9"/>
<text x="388.60" y="381.40" font-size="6.8" text-anchor="middle" textLength="22.4" lengthAdjust="spacingAndGlyphs">1.1.2020</text>
<line x1="427.50" y1="369.30" x2="427.50" y2="374.10" stroke="#707070" stroke-width="0.9"/>
<text x="427.50" y="381.40" font-size="6.8" text-anchor="middle" textLength="23.6" lengthAdjust="spacingAndGlyphs">1.3.2020</text>
<line x1="466.40" y1="369.30" x2="466.40" y2="374.10" stroke="#707070" stroke-width="0.9"/>
<text x="466.40" y="381.40" font-size="6.8" text-anchor="middle" textLength="23.7" lengthAdjust="spacingAndGlyphs">1.5.2020</text>
<line x1="506.10" y1="369.30" x2="506.10" y2="374.10" stroke="#707070" stroke-width="0.9"/>
<text x="506.10" y="381.40" font-size="6.8" text-anchor="middle" textLength="22.7" lengthAdjust="spacingAndGlyphs">1.7.2020</text>
<text x="322.60" y="320.80" font-size="7.2" text-anchor="middle" transform="rotate(-90 322.60 320.80)">LWC (µg m<tspan dy="-2.74" font-size="4.75">−3</tspan><tspan dy="2.74">) SOAaq (µg m</tspan><tspan dy="-2.74" font-size="4.75">−3</tspan><tspan dy="2.74">)</tspan></text>
<polygon points="361.21,331.20 361.68,337.74 362.38,338.91 363.08,331.52 364.72,331.31 365.42,331.83 366.35,337.74 367.29,350.59 367.99,344.75 368.69,332.57 369.86,332.04 371.02,333.09 372.19,342.41 373.13,349.42 373.83,340.08 374.76,331.20" fill="#000"/>
<polygon points="378.50,331.20 380.37,332.04 381.77,332.57 382.70,340.08 383.40,341.95 384.10,337.74 385.04,333.09 386.21,332.57 387.37,332.04 388.54,332.57 389.71,337.74 390.88,344.75 391.58,347.08 392.28,340.08 393.21,333.09 394.38,332.57 395.55,332.57 396.72,333.09 397.89,333.62 399.05,341.25 399.75,337.74 400.92,332.57 402.56,332.04 403.73,332.57 404.89,333.09 406.06,332.88 407.23,332.57 408.40,333.62 409.57,332.57 410.73,337.74 411.90,340.08 412.60,333.09 413.54,332.57 414.47,340.08 415.41,349.42 416.11,358.76 416.81,349.42 417.74,337.74 418.91,333.09 420.08,340.08 420.78,344.75 421.48,340.08 422.41,333.62 423.58,333.09 424.75,337.74 425.68,342.41 426.38,356.43 426.85,363.44 427.32,354.09 428.02,340.08 428.95,332.57 430.36,331.20" fill="#000"/>
<polygon points="434.09,331.20 436.43,331.73 438.76,331.83 441.10,331.83 442.27,332.04 442.97,332.36 443.67,331.83 445.77,331.73 446.94,332.25 448.11,331.62 450.44,331.83 452.78,331.62 455.12,331.52 457.45,331.62 459.79,331.52 461.66,331.20" fill="#000"/>
<polygon points="465.63,331.20 465.86,333.09 466.33,338.91 466.80,332.57 467.50,331.41 478.47,331.20" fill="#000"/>
<polygon points="483.61,331.20 485.48,331.73 487.82,331.83 490.15,331.62 492.49,331.73 494.83,331.83 497.16,331.73 499.50,331.83 501.83,331.83 504.17,332.04 505.34,332.25 506.51,333.09 506.97,337.74 507.67,331.20" fill="#000"/>
<polygon points="361.68,331.20 362.15,329.02 362.61,328.37 363.08,331.20" fill="#fb80ea"/>
<polygon points="364.72,331.20 365.42,330.30 366.35,329.66 367.52,324.19 368.22,329.02 369.15,329.66 370.09,329.02 371.02,324.89 371.96,322.56 372.89,316.72 373.59,315.55 374.29,316.72 374.76,331.20" fill="#fb80ea"/>
<polygon points="378.50,331.20 379.20,329.66 380.37,329.40 381.53,328.37 382.70,316.72 383.40,305.04 384.10,316.72 385.04,324.89 385.74,321.39 386.44,317.89 387.14,328.37 388.08,329.02 389.01,324.89 389.94,328.37 390.88,320.22 391.58,319.05 392.28,328.37 393.21,324.89 394.38,329.02 395.55,328.37 396.72,329.02 397.89,328.37 398.47,307.37 398.89,281.68 399.24,281.21 399.66,307.37 400.22,328.37 401.39,329.66 402.56,328.37 403.26,322.56 404.19,329.02 405.13,329.66 406.06,329.02 407.23,328.37 408.40,324.89 409.57,323.73 410.73,321.39 411.90,313.21 412.60,316.72 413.54,329.02 414.47,316.72 415.17,305.04 415.87,306.21 416.57,324.89 417.74,329.66 418.91,324.89 420.08,315.55 420.78,328.37 421.71,329.02 422.88,329.66 424.28,328.37 425.22,321.39 426.15,310.18 426.85,316.72 427.55,328.37 428.49,329.02 429.42,329.66 430.36,331.20" fill="#fb80ea"/>
<polygon points="434.09,331.20 435.26,330.69 436.43,330.56 437.60,330.69 438.76,330.30 439.93,330.69 441.10,329.92 442.27,329.40 442.97,328.63 443.67,329.66 444.60,330.30 445.77,329.66 446.47,329.02 447.17,329.92 448.11,330.43 449.28,329.66 450.44,329.40 451.61,330.30 452.78,329.66 453.95,330.69 455.12,330.30 456.28,330.56 457.45,330.69 458.62,330.56 459.79,330.82 461.66,331.20" fill="#fb80ea"/>
<polygon points="465.63,331.20 466.09,324.19 466.80,322.56 467.50,323.73 468.20,323.26 469.13,324.89 470.07,324.19 471.00,328.37 471.93,329.66 472.87,329.40 473.80,330.30 474.97,330.30 476.14,330.69 477.31,329.92 478.01,330.69 478.47,331.20" fill="#fb80ea"/>
<polygon points="483.61,331.20 484.31,330.30 485.48,330.69 486.65,330.43 487.82,330.30 488.99,330.69 490.15,329.66 491.32,330.30 492.49,329.92 493.66,329.40 494.83,329.66 495.99,329.02 497.16,329.66 498.33,328.63 499.50,328.12 500.67,324.19 501.83,328.37 503.00,324.89 504.17,329.02 505.34,329.92 506.51,330.69 507.67,331.20" fill="#fb80ea"/>
<rect x="459.10" y="283.00" width="7.80" height="7.80" fill="#fb80ea" stroke="#333" stroke-width="0.5"/>
<text x="471.60" y="289.80" font-size="6.9">SOA<tspan dy="1.93" font-size="4.55">aq</tspan></text>
<line x1="350.40" y1="408.50" x2="350.40" y2="502.30" stroke="#8c8c8c" stroke-width="0.9"/>
<line x1="345.90" y1="418.40" x2="350.40" y2="418.40" stroke="#8c8c8c" stroke-width="0.9"/>
<text x="342.20" y="420.80" font-size="6.8" text-anchor="end">8</text>
<line x1="345.90" y1="439.00" x2="350.40" y2="439.00" stroke="#8c8c8c" stroke-width="0.9"/>
<text x="342.20" y="441.40" font-size="6.8" text-anchor="end">6</text>
<line x1="345.90" y1="459.60" x2="350.40" y2="459.60" stroke="#8c8c8c" stroke-width="0.9"/>
<text x="342.20" y="462.00" font-size="6.8" text-anchor="end">4</text>
<line x1="345.90" y1="480.20" x2="350.40" y2="480.20" stroke="#8c8c8c" stroke-width="0.9"/>
<text x="342.20" y="482.60" font-size="6.8" text-anchor="end">2</text>
<line x1="345.90" y1="500.80" x2="350.40" y2="500.80" stroke="#8c8c8c" stroke-width="0.9"/>
<text x="342.20" y="503.20" font-size="6.8" text-anchor="end">0</text>
<line x1="350.60" y1="502.60" x2="506.50" y2="502.60" stroke="#8c8c8c" stroke-width="0.9"/>
<line x1="351.80" y1="502.60" x2="351.80" y2="507.40" stroke="#707070" stroke-width="0.9"/>
<text x="351.80" y="514.60" font-size="6.8" text-anchor="middle" textLength="23.8" lengthAdjust="spacingAndGlyphs">1.11.2019</text>
<line x1="390.70" y1="502.60" x2="390.70" y2="507.40" stroke="#707070" stroke-width="0.9"/>
<text x="390.70" y="514.60" font-size="6.8" text-anchor="middle" textLength="22.4" lengthAdjust="spacingAndGlyphs">1.1.2020</text>
<line x1="428.80" y1="502.60" x2="428.80" y2="507.40" stroke="#707070" stroke-width="0.9"/>
<text x="428.80" y="514.60" font-size="6.8" text-anchor="middle" textLength="23.6" lengthAdjust="spacingAndGlyphs">1.3.2020</text>
<line x1="467.40" y1="502.60" x2="467.40" y2="507.40" stroke="#707070" stroke-width="0.9"/>
<text x="467.40" y="514.60" font-size="6.8" text-anchor="middle" textLength="23.7" lengthAdjust="spacingAndGlyphs">1.5.2020</text>
<line x1="506.10" y1="502.60" x2="506.10" y2="507.40" stroke="#707070" stroke-width="0.9"/>
<text x="506.10" y="514.60" font-size="6.8" text-anchor="middle" textLength="22.7" lengthAdjust="spacingAndGlyphs">1.7.2020</text>
<text x="428.50" y="525.50" font-size="7.4" text-anchor="middle">Date (DD.MM.YYYY)</text>
<text x="323.30" y="456.30" font-size="7.5" text-anchor="middle" transform="rotate(-90 323.30 456.30)">bioSOA<tspan dy="2.10" font-size="4.95">day</tspan><tspan dy="-2.10"> and</tspan></text>
<text x="331.60" y="455.50" font-size="7.5" text-anchor="middle" transform="rotate(-90 331.60 455.50)">bioSOA<tspan dy="2.10" font-size="4.95">night</tspan><tspan dy="-2.10"> (µg m</tspan><tspan dy="-2.85" font-size="4.95">−3</tspan><tspan dy="2.85">)</tspan></text>
<polygon points="364.02,500.60 364.02,500.60 364.48,492.41 365.18,487.27 365.88,497.08 366.35,500.60 366.35,500.60" fill="#139113"/>
<polyline points="364.02,500.60 364.48,492.41 365.18,487.27 365.88,497.08 366.35,500.60" fill="none" stroke="#139113" stroke-width="0.9" stroke-linejoin="round"/>
<polygon points="367.52,500.60 367.52,500.60 367.99,494.28 368.69,492.88 369.62,494.28 370.56,497.08 371.49,498.25 372.42,498.49 373.36,498.02 374.29,497.55 374.99,494.75 375.69,473.73 376.16,463.21 376.63,473.73 377.10,494.75 377.56,500.60 377.56,500.60" fill="#139113"/>
<polyline points="367.52,500.60 367.99,494.28 368.69,492.88 369.62,494.28 370.56,497.08 371.49,498.25 372.42,498.49 373.36,498.02 374.29,497.55 374.99,494.75 375.69,473.73 376.16,463.21 376.63,473.73 377.10,494.75 377.56,500.60" fill="none" stroke="#139113" stroke-width="0.9" stroke-linejoin="round"/>
<polygon points="381.07,500.60 381.07,500.60 381.53,496.62 382.70,496.15 383.87,495.92 385.04,495.45 386.21,495.68 387.37,495.22 388.54,495.45 389.71,494.75 390.88,493.58 392.05,495.22 393.21,496.15 394.38,496.62 395.55,497.08 396.72,497.32 397.89,497.55 399.52,497.79 399.99,500.60 399.99,500.60" fill="#139113"/>
<polyline points="381.07,500.60 381.53,496.62 382.70,496.15 383.87,495.92 385.04,495.45 386.21,495.68 387.37,495.22 388.54,495.45 389.71,494.75 390.88,493.58 392.05,495.22 393.21,496.15 394.38,496.62 395.55,497.08 396.72,497.32 397.89,497.55 399.52,497.79 399.99,500.60" fill="none" stroke="#139113" stroke-width="0.9" stroke-linejoin="round"/>
<polygon points="400.92,500.60 400.92,500.60 401.39,495.92 402.32,495.22 403.26,495.92 403.73,490.08 404.43,492.41 405.13,494.28 406.06,487.74 406.76,477.23 407.46,479.57 408.40,487.74 409.57,494.28 410.73,497.08 411.90,498.25 413.07,495.92 414.24,492.41 414.94,490.78 415.41,500.60 415.41,500.60" fill="#139113"/>
<polyline points="400.92,500.60 401.39,495.92 402.32,495.22 403.26,495.92 403.73,490.08 404.43,492.41 405.13,494.28 406.06,487.74 406.76,477.23 407.46,479.57 408.40,487.74 409.57,494.28 410.73,497.08 411.90,498.25 413.07,495.92 414.24,492.41 414.94,490.78 415.41,500.60" fill="none" stroke="#139113" stroke-width="0.9" stroke-linejoin="round"/>
<polygon points="416.11,500.60 416.11,500.60 416.57,483.07 417.74,485.41 418.44,490.08 419.14,497.08 419.84,490.08 420.78,487.74 421.48,481.90 422.18,478.86 422.88,490.08 423.58,500.60 423.58,500.60" fill="#139113"/>
<polyline points="416.11,500.60 416.57,483.07 417.74,485.41 418.44,490.08 419.14,497.08 419.84,490.08 420.78,487.74 421.48,481.90 422.18,478.86 422.88,490.08 423.58,500.60" fill="none" stroke="#139113" stroke-width="0.9" stroke-linejoin="round"/>
<polygon points="424.28,500.60 424.28,500.60 424.75,487.74 425.92,484.94 427.08,487.74 428.25,485.87 429.42,489.61 430.59,490.54 431.29,492.41 431.76,500.60 431.76,500.60" fill="#139113"/>
<polyline points="424.28,500.60 424.75,487.74 425.92,484.94 427.08,487.74 428.25,485.87 429.42,489.61 430.59,490.54 431.29,492.41 431.76,500.60" fill="none" stroke="#139113" stroke-width="0.9" stroke-linejoin="round"/>
<polygon points="436.29,500.60 436.29,495.00 437.42,490.97 438.55,486.94 439.84,487.74 441.13,489.35 442.26,484.52 443.39,468.39 444.03,457.42 444.68,473.23 445.48,487.74 446.61,476.45 447.42,471.29 448.23,479.68 449.19,489.35 450.32,482.90 451.13,474.84 451.94,474.03 452.74,484.52 453.55,489.35 454.68,490.97 455.65,484.52 456.45,473.23 457.26,461.13 457.90,468.39 458.87,487.74 459.68,484.52 460.48,487.74 461.61,497.42 461.61,500.60" fill="#139113"/>
<polyline points="436.29,495.00 437.42,490.97 438.55,486.94 439.84,487.74 441.13,489.35 442.26,484.52 443.39,468.39 444.03,457.42 444.68,473.23 445.48,487.74 446.61,476.45 447.42,471.29 448.23,479.68 449.19,489.35 450.32,482.90 451.13,474.84 451.94,474.03 452.74,484.52 453.55,489.35 454.68,490.97 455.65,484.52 456.45,473.23 457.26,461.13 457.90,468.39 458.87,487.74 459.68,484.52 460.48,487.74 461.61,497.42" fill="none" stroke="#139113" stroke-width="0.9" stroke-linejoin="round"/>
<polygon points="466.94,500.60 466.94,444.19 467.26,429.68 467.74,429.35 468.06,444.19 468.55,468.39 469.19,473.23 470.16,468.39 470.81,467.58 471.45,473.23 472.10,481.29 472.90,484.52 473.71,487.74 474.52,490.97 475.32,486.13 476.13,483.71 476.94,484.52 477.74,489.35 478.55,485.32 479.35,490.97 479.35,500.60" fill="#139113"/>
<polyline points="466.94,444.19 467.26,429.68 467.74,429.35 468.06,444.19 468.55,468.39 469.19,473.23 470.16,468.39 470.81,467.58 471.45,473.23 472.10,481.29 472.90,484.52 473.71,487.74 474.52,490.97 475.32,486.13 476.13,483.71 476.94,484.52 477.74,489.35 478.55,485.32 479.35,490.97" fill="none" stroke="#139113" stroke-width="0.9" stroke-linejoin="round"/>
<polygon points="483.87,500.60 483.87,484.52 484.68,473.23 485.32,471.29 485.97,478.06 486.61,489.35 487.42,490.97 488.23,487.74 489.03,481.29 489.84,474.84 490.65,468.39 491.45,467.90 492.26,478.06 493.06,490.97 493.87,473.23 494.68,471.61 495.48,476.45 496.29,481.29 497.10,487.74 497.90,484.52 498.71,481.29 499.52,484.52 500.32,481.29 501.13,479.68 501.94,478.06 502.74,474.84 503.55,468.39 504.35,473.23 505.16,481.29 505.97,487.74 505.97,500.60" fill="#139113"/>
<polyline points="483.87,484.52 484.68,473.23 485.32,471.29 485.97,478.06 486.61,489.35 487.42,490.97 488.23,487.74 489.03,481.29 489.84,474.84 490.65,468.39 491.45,467.90 492.26,478.06 493.06,490.97 493.87,473.23 494.68,471.61 495.48,476.45 496.29,481.29 497.10,487.74 497.90,484.52 498.71,481.29 499.52,484.52 500.32,481.29 501.13,479.68 501.94,478.06 502.74,474.84 503.55,468.39 504.35,473.23 505.16,481.29 505.97,487.74" fill="none" stroke="#139113" stroke-width="0.9" stroke-linejoin="round"/>
<polygon points="364.02,500.60 364.02,500.60 364.48,497.08 365.42,495.92 366.35,500.60 366.35,500.60" fill="#86f286"/>
<polygon points="367.52,500.60 367.52,500.60 368.69,497.08 371.02,498.95 373.36,498.95 375.69,497.08 376.40,494.75 377.10,498.25 377.56,500.60 377.56,500.60" fill="#86f286"/>
<polygon points="381.07,500.60 381.07,500.60 381.53,498.72 385.04,498.49 389.71,498.02 393.21,498.49 396.72,498.95 399.99,500.60 399.99,500.60" fill="#86f286"/>
<polygon points="400.92,500.60 400.92,500.60 401.86,498.25 403.73,497.08 406.06,494.75 407.23,490.08 408.40,492.41 409.57,497.08 411.20,499.42 413.07,498.25 414.94,495.92 415.41,500.60 415.41,500.60" fill="#86f286"/>
<polygon points="416.11,500.60 416.11,500.60 416.57,487.74 417.74,490.08 419.14,498.25 420.08,494.75 421.48,490.08 422.41,487.74 423.58,500.60 423.58,500.60" fill="#86f286"/>
<polygon points="424.28,500.60 424.28,500.60 425.22,490.08 427.08,491.25 429.42,492.41 431.76,500.60 431.76,500.60" fill="#86f286"/>
<polygon points="436.61,500.60 436.61,495.81 438.23,493.39 439.84,492.58 441.45,492.58 442.74,489.35 443.87,474.84 444.68,484.52 445.65,492.58 446.94,487.74 447.90,489.35 448.87,494.19 450.32,490.97 451.45,487.74 452.74,490.97 454.03,494.19 455.32,490.97 456.61,487.74 457.58,484.52 458.39,489.35 459.52,490.97 460.81,494.19 460.81,500.60" fill="#86f286"/>
<polygon points="467.26,500.60 467.26,474.84 468.06,475.65 468.87,481.29 469.68,479.68 470.48,484.52 472.10,489.35 473.71,492.58 475.32,490.97 476.94,492.58 478.55,491.77 478.55,500.60" fill="#86f286"/>
<polygon points="484.19,500.60 484.19,490.97 485.00,487.74 485.81,489.35 486.61,494.19 488.23,492.58 489.84,487.74 491.13,484.52 492.26,489.35 493.06,494.19 494.03,487.74 495.00,486.13 496.29,490.97 497.90,492.58 499.52,490.97 501.13,489.35 502.74,487.74 503.71,484.52 504.68,487.74 505.97,490.97 505.97,500.60" fill="#86f286"/>
<rect x="355.00" y="413.20" width="7.80" height="7.80" fill="#139113" stroke="#333" stroke-width="0.5"/>
<text x="367.40" y="419.60" font-size="6.9">bioSOA<tspan dy="1.93" font-size="4.55">night</tspan></text>
<rect x="413.30" y="413.20" width="7.80" height="7.80" fill="#86f286" stroke="#333" stroke-width="0.5"/>
<text x="425.20" y="419.60" font-size="6.9">bioSOA<tspan dy="1.93" font-size="4.55">day</tspan></text>
<line x1="570.40" y1="18.30" x2="570.40" y2="108.65" stroke="#8c8c8c" stroke-width="0.9"/>
<line x1="565.90" y1="24.80" x2="570.40" y2="24.80" stroke="#8c8c8c" stroke-width="0.9"/>
<text x="562.80" y="27.20" font-size="6.8" text-anchor="end">0.10</text>
<line x1="565.90" y1="41.20" x2="570.40" y2="41.20" stroke="#8c8c8c" stroke-width="0.9"/>
<text x="562.80" y="43.60" font-size="6.8" text-anchor="end">0.08</text>
<line x1="565.90" y1="57.30" x2="570.40" y2="57.30" stroke="#8c8c8c" stroke-width="0.9"/>
<text x="562.80" y="59.70" font-size="6.8" text-anchor="end">0.06</text>
<line x1="565.90" y1="73.70" x2="570.40" y2="73.70" stroke="#8c8c8c" stroke-width="0.9"/>
<text x="562.80" y="76.10" font-size="6.8" text-anchor="end">0.04</text>
<line x1="565.90" y1="90.10" x2="570.40" y2="90.10" stroke="#8c8c8c" stroke-width="0.9"/>
<text x="562.80" y="92.50" font-size="6.8" text-anchor="end">0.02</text>
<line x1="565.90" y1="106.40" x2="570.40" y2="106.40" stroke="#8c8c8c" stroke-width="0.9"/>
<text x="562.80" y="108.80" font-size="6.8" text-anchor="end">0</text>
<line x1="569.95" y1="108.20" x2="650.50" y2="108.20" stroke="#8c8c8c" stroke-width="0.9"/>
<line x1="571.70" y1="108.20" x2="571.70" y2="113.00" stroke="#707070" stroke-width="0.9"/>
<line x1="578.27" y1="108.20" x2="578.27" y2="110.80" stroke="#707070" stroke-width="0.9"/>
<line x1="584.84" y1="108.20" x2="584.84" y2="110.80" stroke="#707070" stroke-width="0.9"/>
<line x1="591.41" y1="108.20" x2="591.41" y2="110.80" stroke="#707070" stroke-width="0.9"/>
<line x1="597.98" y1="108.20" x2="597.98" y2="110.80" stroke="#707070" stroke-width="0.9"/>
<line x1="604.55" y1="108.20" x2="604.55" y2="113.00" stroke="#707070" stroke-width="0.9"/>
<line x1="611.12" y1="108.20" x2="611.12" y2="110.80" stroke="#707070" stroke-width="0.9"/>
<line x1="617.69" y1="108.20" x2="617.69" y2="110.80" stroke="#707070" stroke-width="0.9"/>
<line x1="624.26" y1="108.20" x2="624.26" y2="110.80" stroke="#707070" stroke-width="0.9"/>
<line x1="630.83" y1="108.20" x2="630.83" y2="110.80" stroke="#707070" stroke-width="0.9"/>
<line x1="637.40" y1="108.20" x2="637.40" y2="113.00" stroke="#707070" stroke-width="0.9"/>
<line x1="643.97" y1="108.20" x2="643.97" y2="110.80" stroke="#707070" stroke-width="0.9"/>
<line x1="650.54" y1="108.20" x2="650.54" y2="110.80" stroke="#707070" stroke-width="0.9"/>
<text x="571.70" y="120.60" font-size="6.8" text-anchor="middle">0:00</text>
<text x="604.55" y="120.60" font-size="6.8" text-anchor="middle">10:00</text>
<text x="637.40" y="120.60" font-size="6.8" text-anchor="middle">20:00</text>
<text x="541.30" y="63.50" font-size="7.6" text-anchor="middle" transform="rotate(-90 541.30 63.50)">sfSOA (µg m<tspan dy="-2.89" font-size="5.02">−3</tspan><tspan dy="2.89">)</tspan></text>
<polyline points="576.63,48.80 586.48,37.90 596.34,49.90 606.19,41.60 616.05,43.20 625.90,19.80 635.76,17.60 645.61,37.70" fill="none" stroke="#fdc874" stroke-width="1.5" stroke-linejoin="round"/>
<line x1="570.20" y1="149.90" x2="570.20" y2="239.55" stroke="#8c8c8c" stroke-width="0.9"/>
<line x1="565.70" y1="149.90" x2="570.20" y2="149.90" stroke="#8c8c8c" stroke-width="0.9"/>
<text x="562.60" y="152.30" font-size="6.8" text-anchor="end">0.8</text>
<line x1="565.70" y1="171.80" x2="570.20" y2="171.80" stroke="#8c8c8c" stroke-width="0.9"/>
<text x="562.60" y="174.20" font-size="6.8" text-anchor="end">0.6</text>
<line x1="565.70" y1="193.70" x2="570.20" y2="193.70" stroke="#8c8c8c" stroke-width="0.9"/>
<text x="562.60" y="196.10" font-size="6.8" text-anchor="end">0.4</text>
<line x1="565.70" y1="215.60" x2="570.20" y2="215.60" stroke="#8c8c8c" stroke-width="0.9"/>
<text x="562.60" y="218.00" font-size="6.8" text-anchor="end">0.2</text>
<line x1="565.70" y1="237.50" x2="570.20" y2="237.50" stroke="#8c8c8c" stroke-width="0.9"/>
<text x="562.60" y="239.90" font-size="6.8" text-anchor="end">0</text>
<line x1="569.75" y1="239.10" x2="649.30" y2="239.10" stroke="#8c8c8c" stroke-width="0.9"/>
<line x1="571.30" y1="239.10" x2="571.30" y2="243.90" stroke="#707070" stroke-width="0.9"/>
<line x1="577.81" y1="239.10" x2="577.81" y2="241.70" stroke="#707070" stroke-width="0.9"/>
<line x1="584.32" y1="239.10" x2="584.32" y2="241.70" stroke="#707070" stroke-width="0.9"/>
<line x1="590.83" y1="239.10" x2="590.83" y2="241.70" stroke="#707070" stroke-width="0.9"/>
<line x1="597.34" y1="239.10" x2="597.34" y2="241.70" stroke="#707070" stroke-width="0.9"/>
<line x1="603.85" y1="239.10" x2="603.85" y2="243.90" stroke="#707070" stroke-width="0.9"/>
<line x1="610.36" y1="239.10" x2="610.36" y2="241.70" stroke="#707070" stroke-width="0.9"/>
<line x1="616.87" y1="239.10" x2="616.87" y2="241.70" stroke="#707070" stroke-width="0.9"/>
<line x1="623.38" y1="239.10" x2="623.38" y2="241.70" stroke="#707070" stroke-width="0.9"/>
<line x1="629.89" y1="239.10" x2="629.89" y2="241.70" stroke="#707070" stroke-width="0.9"/>
<line x1="636.40" y1="239.10" x2="636.40" y2="243.90" stroke="#707070" stroke-width="0.9"/>
<line x1="642.91" y1="239.10" x2="642.91" y2="241.70" stroke="#707070" stroke-width="0.9"/>
<line x1="649.42" y1="239.10" x2="649.42" y2="241.70" stroke="#707070" stroke-width="0.9"/>
<text x="571.30" y="250.80" font-size="6.8" text-anchor="middle">0:00</text>
<text x="603.85" y="250.80" font-size="6.8" text-anchor="middle">10:00</text>
<text x="636.40" y="250.80" font-size="6.8" text-anchor="middle">20:00</text>
<line x1="649.30" y1="150.20" x2="649.30" y2="239.10" stroke="#8c8c8c" stroke-width="0.9"/>
<line x1="649.30" y1="156.40" x2="653.60" y2="156.40" stroke="#8c8c8c" stroke-width="0.9"/>
<text x="657.60" y="158.80" font-size="6.8">0.12</text>
<line x1="649.30" y1="169.80" x2="653.60" y2="169.80" stroke="#8c8c8c" stroke-width="0.9"/>
<text x="657.60" y="172.20" font-size="6.8">0.10</text>
<line x1="649.30" y1="183.30" x2="653.60" y2="183.30" stroke="#8c8c8c" stroke-width="0.9"/>
<text x="657.60" y="185.70" font-size="6.8">0.08</text>
<line x1="649.30" y1="196.90" x2="653.60" y2="196.90" stroke="#8c8c8c" stroke-width="0.9"/>
<text x="657.60" y="199.30" font-size="6.8">0.06</text>
<line x1="649.30" y1="210.30" x2="653.60" y2="210.30" stroke="#8c8c8c" stroke-width="0.9"/>
<text x="657.60" y="212.70" font-size="6.8">0.04</text>
<line x1="649.30" y1="223.90" x2="653.60" y2="223.90" stroke="#8c8c8c" stroke-width="0.9"/>
<text x="657.60" y="226.30" font-size="6.8">0.02</text>
<line x1="649.30" y1="237.50" x2="653.60" y2="237.50" stroke="#8c8c8c" stroke-width="0.9"/>
<text x="657.60" y="239.90" font-size="6.8">0</text>
<text x="542.00" y="193.90" font-size="7.6" text-anchor="middle" transform="rotate(-90 542.00 193.90)">aromSOA<tspan dy="2.13" font-size="5.02">day</tspan><tspan dy="-2.13"> (µg m</tspan><tspan dy="-2.89" font-size="5.02">−3</tspan><tspan dy="2.89">)</tspan></text>
<text x="676.80" y="193.50" font-size="7.7" text-anchor="middle" transform="rotate(90 676.80 193.50)">aromSOA<tspan dy="2.16" font-size="5.08">night</tspan><tspan dy="-2.16"> (µg m</tspan><tspan dy="-2.93" font-size="5.08">−3</tspan><tspan dy="2.93">)</tspan></text>
<polyline points="576.18,208.30 585.95,212.40 595.71,216.30 605.48,203.30 615.24,189.00 625.01,172.60 634.77,156.60 644.54,204.90" fill="none" stroke="#b27be0" stroke-width="1.5" stroke-linejoin="round"/>
<polyline points="576.18,184.40 585.95,164.60 595.71,201.00 605.48,193.00 615.24,206.50 625.01,219.70 634.77,194.00 644.54,188.50" fill="none" stroke="#1414e6" stroke-width="1.8" stroke-linejoin="round"/>
<line x1="570.00" y1="275.20" x2="570.00" y2="369.85" stroke="#8c8c8c" stroke-width="0.9"/>
<line x1="565.50" y1="286.00" x2="570.00" y2="286.00" stroke="#8c8c8c" stroke-width="0.9"/>
<text x="562.40" y="288.40" font-size="6.8" text-anchor="end">0.8</text>
<line x1="565.50" y1="306.50" x2="570.00" y2="306.50" stroke="#8c8c8c" stroke-width="0.9"/>
<text x="562.40" y="308.90" font-size="6.8" text-anchor="end">0.6</text>
<line x1="565.50" y1="326.70" x2="570.00" y2="326.70" stroke="#8c8c8c" stroke-width="0.9"/>
<text x="562.40" y="329.10" font-size="6.8" text-anchor="end">0.4</text>
<line x1="565.50" y1="347.00" x2="570.00" y2="347.00" stroke="#8c8c8c" stroke-width="0.9"/>
<text x="562.40" y="349.40" font-size="6.8" text-anchor="end">0.2</text>
<line x1="565.50" y1="367.50" x2="570.00" y2="367.50" stroke="#8c8c8c" stroke-width="0.9"/>
<text x="562.40" y="369.90" font-size="6.8" text-anchor="end">0</text>
<line x1="569.55" y1="369.40" x2="653.20" y2="369.40" stroke="#8c8c8c" stroke-width="0.9"/>
<line x1="571.50" y1="369.40" x2="571.50" y2="374.20" stroke="#707070" stroke-width="0.9"/>
<line x1="578.30" y1="369.40" x2="578.30" y2="372.00" stroke="#707070" stroke-width="0.9"/>
<line x1="585.10" y1="369.40" x2="585.10" y2="372.00" stroke="#707070" stroke-width="0.9"/>
<line x1="591.90" y1="369.40" x2="591.90" y2="372.00" stroke="#707070" stroke-width="0.9"/>
<line x1="598.70" y1="369.40" x2="598.70" y2="372.00" stroke="#707070" stroke-width="0.9"/>
<line x1="605.50" y1="369.40" x2="605.50" y2="374.20" stroke="#707070" stroke-width="0.9"/>
<line x1="612.30" y1="369.40" x2="612.30" y2="372.00" stroke="#707070" stroke-width="0.9"/>
<line x1="619.10" y1="369.40" x2="619.10" y2="372.00" stroke="#707070" stroke-width="0.9"/>
<line x1="625.90" y1="369.40" x2="625.90" y2="372.00" stroke="#707070" stroke-width="0.9"/>
<line x1="632.70" y1="369.40" x2="632.70" y2="372.00" stroke="#707070" stroke-width="0.9"/>
<line x1="639.50" y1="369.40" x2="639.50" y2="374.20" stroke="#707070" stroke-width="0.9"/>
<line x1="646.30" y1="369.40" x2="646.30" y2="372.00" stroke="#707070" stroke-width="0.9"/>
<line x1="653.10" y1="369.40" x2="653.10" y2="372.00" stroke="#707070" stroke-width="0.9"/>
<text x="571.50" y="381.40" font-size="6.8" text-anchor="middle">0:00</text>
<text x="605.50" y="381.40" font-size="6.8" text-anchor="middle">10:00</text>
<text x="639.50" y="381.40" font-size="6.8" text-anchor="middle">20:00</text>
<text x="542.00" y="322.00" font-size="7.6" text-anchor="middle" transform="rotate(-90 542.00 322.00)">SOA<tspan dy="2.13" font-size="5.02">aq</tspan><tspan dy="-2.13"> (µg m</tspan><tspan dy="-2.89" font-size="5.02">−3</tspan><tspan dy="2.89">)</tspan></text>
<polyline points="576.60,284.20 586.80,275.20 597.00,284.20 607.20,287.30 617.40,292.40 627.60,285.50 637.80,288.10 648.00,282.20" fill="none" stroke="#f57ee0" stroke-width="1.5" stroke-linejoin="round"/>
<line x1="570.10" y1="408.80" x2="570.10" y2="503.05" stroke="#8c8c8c" stroke-width="0.9"/>
<line x1="565.60" y1="415.00" x2="570.10" y2="415.00" stroke="#8c8c8c" stroke-width="0.9"/>
<text x="562.50" y="417.40" font-size="6.8" text-anchor="end">0.4</text>
<line x1="565.60" y1="436.30" x2="570.10" y2="436.30" stroke="#8c8c8c" stroke-width="0.9"/>
<text x="562.50" y="438.70" font-size="6.8" text-anchor="end">0.3</text>
<line x1="565.60" y1="457.60" x2="570.10" y2="457.60" stroke="#8c8c8c" stroke-width="0.9"/>
<text x="562.50" y="460.00" font-size="6.8" text-anchor="end">0.2</text>
<line x1="565.60" y1="479.10" x2="570.10" y2="479.10" stroke="#8c8c8c" stroke-width="0.9"/>
<text x="562.50" y="481.50" font-size="6.8" text-anchor="end">0.1</text>
<line x1="565.60" y1="500.70" x2="570.10" y2="500.70" stroke="#8c8c8c" stroke-width="0.9"/>
<text x="562.50" y="503.10" font-size="6.8" text-anchor="end">0</text>
<line x1="569.65" y1="502.60" x2="650.70" y2="502.60" stroke="#8c8c8c" stroke-width="0.9"/>
<line x1="572.10" y1="502.60" x2="572.10" y2="507.40" stroke="#707070" stroke-width="0.9"/>
<line x1="578.66" y1="502.60" x2="578.66" y2="505.20" stroke="#707070" stroke-width="0.9"/>
<line x1="585.22" y1="502.60" x2="585.22" y2="505.20" stroke="#707070" stroke-width="0.9"/>
<line x1="591.78" y1="502.60" x2="591.78" y2="505.20" stroke="#707070" stroke-width="0.9"/>
<line x1="598.34" y1="502.60" x2="598.34" y2="505.20" stroke="#707070" stroke-width="0.9"/>
<line x1="604.90" y1="502.60" x2="604.90" y2="507.40" stroke="#707070" stroke-width="0.9"/>
<line x1="611.46" y1="502.60" x2="611.46" y2="505.20" stroke="#707070" stroke-width="0.9"/>
<line x1="618.02" y1="502.60" x2="618.02" y2="505.20" stroke="#707070" stroke-width="0.9"/>
<line x1="624.58" y1="502.60" x2="624.58" y2="505.20" stroke="#707070" stroke-width="0.9"/>
<line x1="631.14" y1="502.60" x2="631.14" y2="505.20" stroke="#707070" stroke-width="0.9"/>
<line x1="637.70" y1="502.60" x2="637.70" y2="507.40" stroke="#707070" stroke-width="0.9"/>
<line x1="644.26" y1="502.60" x2="644.26" y2="505.20" stroke="#707070" stroke-width="0.9"/>
<line x1="650.82" y1="502.60" x2="650.82" y2="505.20" stroke="#707070" stroke-width="0.9"/>
<text x="572.10" y="514.60" font-size="6.8" text-anchor="middle">0:00</text>
<text x="604.90" y="514.60" font-size="6.8" text-anchor="middle">10:00</text>
<text x="637.70" y="514.60" font-size="6.8" text-anchor="middle">20:00</text>
<text x="610.10" y="525.40" font-size="7.4" text-anchor="middle">Local time of day (h)</text>
<text x="538.00" y="455.50" font-size="7.5" text-anchor="middle" transform="rotate(-90 538.00 455.50)">bioSOA<tspan dy="2.10" font-size="4.95">day</tspan><tspan dy="-2.10"> and</tspan></text>
<text x="546.40" y="455.00" font-size="7.5" text-anchor="middle" transform="rotate(-90 546.40 455.00)">bioSOA<tspan dy="2.10" font-size="4.95">night</tspan><tspan dy="-2.10"> (µg m</tspan><tspan dy="-2.85" font-size="4.95">−3</tspan><tspan dy="2.85">)</tspan></text>
<polyline points="577.02,425.00 586.86,410.50 596.70,435.60 606.54,414.50 616.38,408.80 626.22,426.80 636.06,409.30 645.90,421.30" fill="none" stroke="#80ef80" stroke-width="1.5" stroke-linejoin="round"/>
<polyline points="577.02,423.00 586.86,408.00 596.70,441.30 606.54,445.80 616.38,456.30 626.22,474.60 636.06,423.80 645.90,417.50" fill="none" stroke="#139113" stroke-width="1.8" stroke-linejoin="round"/>
</svg></body></html>
